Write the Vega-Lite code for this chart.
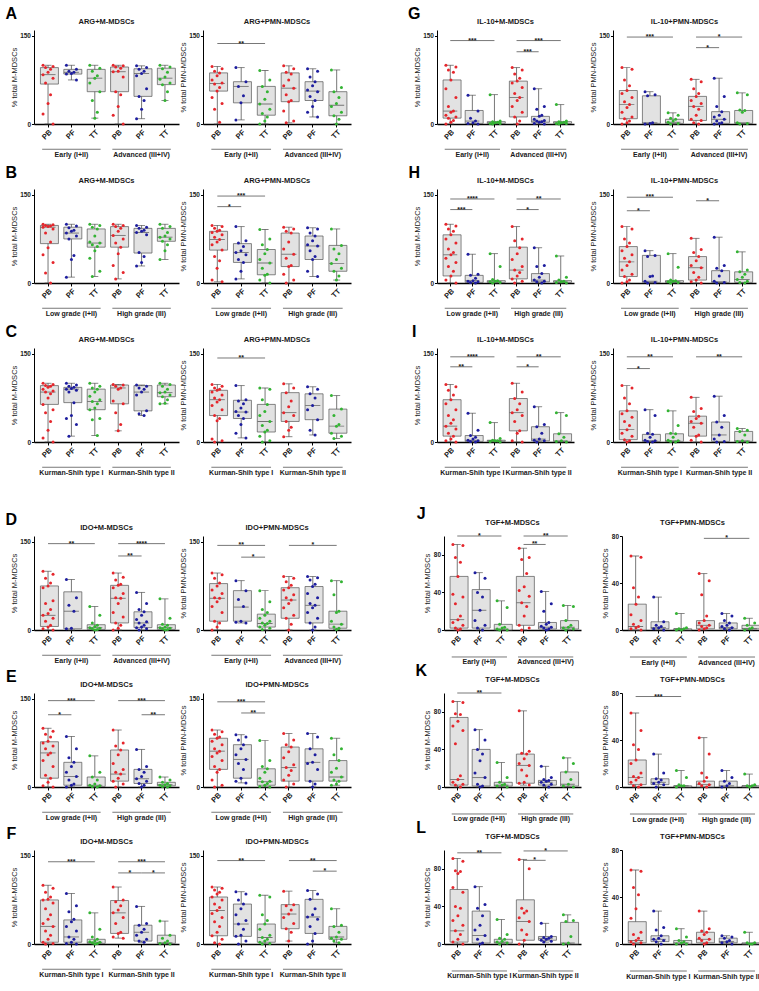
{"$schema":"https://vega.github.io/schema/vega-lite/v6.json",
"config":{"font":"Liberation Sans","view":{"stroke":null},"header":{"labels":false,"title":null},
"axis":{"grid":false,"domainColor":"#000","tickColor":"#000","labelColor":"#1a1a1a","titleColor":"#1a1a1a"},
"axisX":{"labelAngle":-45,"labelAlign":"right","labelBaseline":"top","labelFontSize":7.5,"labelFontWeight":"bold","domainWidth":1.4,"tickSize":3,"labelPadding":1},
"axisY":{"labelFontSize":6.5,"labelFontWeight":"bold","titleFontSize":7.5,"titleFontWeight":"normal","tickSize":2.5,"labelPadding":1,"titlePadding":1.5,"domainWidth":1},
"rule":{"color":"#555","strokeWidth":0.8},"tick":{"color":"#444","thickness":0.9},"circle":{"size":9,"opacity":1},
"text":{"fontSize":7,"fontWeight":"bold","color":"#1a1a1a"}},
"datasets":{"d":[
{"p":"A1","a":1,"b":3,"m":2,"g":"Early (I+II)","ti":"ARG+M-MDSCs","L":"A"},{"p":"A1","a":4,"b":6,"m":5,"g":"Advanced (III+IV)"},
{"p":"A2","a":1,"b":3,"m":2,"g":"Early (I+II)","ti":"ARG+PMN-MDSCs","L":"A"},{"p":"A2","a":4,"b":6,"m":5,"g":"Advanced (III+IV)"},
{"p":"D1","a":1,"b":3,"m":2,"g":"Early (I+II)","ti":"IDO+M-MDSCs","L":"D"},{"p":"D1","a":4,"b":6,"m":5,"g":"Advanced (III+IV)"},
{"p":"D2","a":1,"b":3,"m":2,"g":"Early (I+II)","ti":"IDO+PMN-MDSCs","L":"D"},{"p":"D2","a":4,"b":6,"m":5,"g":"Advanced (III+IV)"},
{"p":"G1","a":1,"b":3,"m":2,"g":"Early (I+II)","ti":"IL-10+M-MDSCs","L":"G"},{"p":"G1","a":4,"b":6,"m":5,"g":"Advanced (III+IV)"},
{"p":"G2","a":1,"b":3,"m":2,"g":"Early (I+II)","ti":"IL-10+PMN-MDSCs","L":"G"},{"p":"G2","a":4,"b":6,"m":5,"g":"Advanced (III+IV)"},
{"p":"J1","a":1,"b":3,"m":2,"g":"Early (I+II)","ti":"TGF+M-MDSCs","L":"J"},{"p":"J1","a":4,"b":6,"m":5,"g":"Advanced (III+IV)"},
{"p":"J2","a":1,"b":3,"m":2,"g":"Early (I+II)","ti":"TGF+PMN-MDSCs","L":"J"},{"p":"J2","a":4,"b":6,"m":5,"g":"Advanced (III+IV)"},
{"p":"B1","a":1,"b":3,"m":2,"g":"Low grade (I+II)","ti":"ARG+M-MDSCs","L":"B"},{"p":"B1","a":4,"b":6,"m":5,"g":"High grade (III)"},
{"p":"B2","a":1,"b":3,"m":2,"g":"Low grade (I+II)","ti":"ARG+PMN-MDSCs","L":"B"},{"p":"B2","a":4,"b":6,"m":5,"g":"High grade (III)"},
{"p":"E1","a":1,"b":3,"m":2,"g":"Low grade (I+II)","ti":"IDO+M-MDSCs","L":"E"},{"p":"E1","a":4,"b":6,"m":5,"g":"High grade (III)"},
{"p":"E2","a":1,"b":3,"m":2,"g":"Low grade (I+II)","ti":"IDO+PMN-MDSCs","L":"E"},{"p":"E2","a":4,"b":6,"m":5,"g":"High grade (III)"},
{"p":"H1","a":1,"b":3,"m":2,"g":"Low grade (I+II)","ti":"IL-10+M-MDSCs","L":"H"},{"p":"H1","a":4,"b":6,"m":5,"g":"High grade (III)"},
{"p":"H2","a":1,"b":3,"m":2,"g":"Low grade (I+II)","ti":"IL-10+PMN-MDSCs","L":"H"},{"p":"H2","a":4,"b":6,"m":5,"g":"High grade (III)"},
{"p":"K1","a":1,"b":3,"m":2,"g":"Low grade (I+II)","ti":"TGF+M-MDSCs","L":"K"},{"p":"K1","a":4,"b":6,"m":5,"g":"High grade (III)"},
{"p":"K2","a":1,"b":3,"m":2,"g":"Low grade (I+II)","ti":"TGF+PMN-MDSCs","L":"K"},{"p":"K2","a":4,"b":6,"m":5,"g":"High grade (III)"},
{"p":"C1","a":1,"b":3,"m":2,"g":"Kurman-Shih type I","ti":"ARG+M-MDSCs","L":"C"},{"p":"C1","a":4,"b":6,"m":5,"g":"Kurman-Shih type II"},
{"p":"C2","a":1,"b":3,"m":2,"g":"Kurman-Shih type I","ti":"ARG+PMN-MDSCs","L":"C"},{"p":"C2","a":4,"b":6,"m":5,"g":"Kurman-Shih type II"},
{"p":"F1","a":1,"b":3,"m":2,"g":"Kurman-Shih type I","ti":"IDO+M-MDSCs","L":"F"},{"p":"F1","a":4,"b":6,"m":5,"g":"Kurman-Shih type II"},
{"p":"F2","a":1,"b":3,"m":2,"g":"Kurman-Shih type I","ti":"IDO+PMN-MDSCs","L":"F"},{"p":"F2","a":4,"b":6,"m":5,"g":"Kurman-Shih type II"},
{"p":"I1","a":1,"b":3,"m":2,"g":"Kurman-Shih type I","ti":"IL-10+M-MDSCs","L":"I"},{"p":"I1","a":4,"b":6,"m":5,"g":"Kurman-Shih type II"},
{"p":"I2","a":1,"b":3,"m":2,"g":"Kurman-Shih type I","ti":"IL-10+PMN-MDSCs","L":"I"},{"p":"I2","a":4,"b":6,"m":5,"g":"Kurman-Shih type II"},
{"p":"L1","a":1,"b":3,"m":2,"g":"Kurman-Shih type I","ti":"TGF+M-MDSCs","L":"L"},{"p":"L1","a":4,"b":6,"m":5,"g":"Kurman-Shih type II"},
{"p":"L2","a":1,"b":3,"m":2,"g":"Kurman-Shih type I","ti":"TGF+PMN-MDSCs","L":"L"},{"p":"L2","a":4,"b":6,"m":5,"g":"Kurman-Shih type II"},
{"p":"A2","a":1,"b":3,"m":2,"y":137,"s":"**"},
{"p":"B2","a":1,"b":3,"m":2,"y":148,"s":"***"},{"p":"B2","a":1,"b":2,"y":130,"s":"*"},
{"p":"C2","a":1,"b":3,"m":2,"y":143,"s":"**"},
{"p":"D1","a":1,"b":3,"m":2,"y":147,"s":"**"},{"p":"D1","a":4,"b":6,"m":5,"y":147,"s":"****"},{"p":"D1","a":4,"b":5,"y":126,"s":"**"},
{"p":"D2","a":1,"b":3,"m":2,"y":144,"s":"**"},{"p":"D2","a":2,"b":3,"y":124,"s":"*"},{"p":"D2","a":4,"b":6,"m":5,"y":144,"s":"*"},
{"p":"E1","a":1,"b":3,"m":2,"y":147,"s":"***"},{"p":"E1","a":1,"b":2,"y":123,"s":"*"},{"p":"E1","a":4,"b":6,"m":5,"y":147,"s":"***"},{"p":"E1","a":5,"b":6,"y":123,"s":"**"},
{"p":"E2","a":1,"b":3,"m":2,"y":145,"s":"***"},{"p":"E2","a":2,"b":3,"y":126,"s":"**"},
{"p":"F1","a":1,"b":3,"m":2,"y":140,"s":"***"},{"p":"F1","a":4,"b":6,"m":5,"y":140,"s":"***"},{"p":"F1","a":4,"b":5,"y":121,"s":"*"},{"p":"F1","a":5,"b":6,"y":121,"s":"*"},
{"p":"F2","a":1,"b":3,"m":2,"y":142,"s":"**"},{"p":"F2","a":4,"b":6,"m":5,"y":142,"s":"**"},{"p":"F2","a":5,"b":6,"y":124,"s":"*"},
{"p":"G1","a":1,"b":3,"m":2,"y":142,"s":"***"},{"p":"G1","a":4,"b":6,"m":5,"y":142,"s":"***"},{"p":"G1","a":4,"b":5,"y":123,"s":"***"},
{"p":"G2","a":1,"b":3,"m":2,"y":148,"s":"***"},{"p":"G2","a":4,"b":6,"m":5,"y":148,"s":"*"},{"p":"G2","a":4,"b":5,"y":130,"s":"*"},
{"p":"H1","a":1,"b":3,"m":2,"y":143,"s":"****"},{"p":"H1","a":1,"b":2,"y":125,"s":"***"},{"p":"H1","a":4,"b":6,"m":5,"y":143,"s":"**"},{"p":"H1","a":4,"b":5,"y":125,"s":"*"},
{"p":"H2","a":1,"b":3,"m":2,"y":146,"s":"***"},{"p":"H2","a":1,"b":2,"y":123,"s":"*"},{"p":"H2","a":4,"b":5,"y":140,"s":"*"},
{"p":"I1","a":1,"b":3,"m":2,"y":145,"s":"****"},{"p":"I1","a":1,"b":2,"y":128,"s":"**"},{"p":"I1","a":4,"b":6,"m":5,"y":145,"s":"**"},{"p":"I1","a":4,"b":5,"y":128,"s":"*"},
{"p":"I2","a":1,"b":3,"m":2,"y":145,"s":"**"},{"p":"I2","a":1,"b":2,"y":125,"s":"*"},{"p":"I2","a":4,"b":6,"m":5,"y":145,"s":"**"},
{"p":"J1","a":1,"b":3,"m":2,"y":100,"s":"*"},{"p":"J1","a":4,"b":6,"m":5,"y":100,"s":"**"},{"p":"J1","a":4,"b":5,"y":91,"s":"**"},
{"p":"J2","a":4,"b":6,"m":5,"y":78,"s":"*"},
{"p":"K1","a":1,"b":3,"m":2,"y":100,"s":"**"},
{"p":"K2","a":1,"b":3,"m":2,"y":77,"s":"***"},
{"p":"L1","a":1,"b":3,"m":2,"y":97,"s":"**"},{"p":"L1","a":4,"b":6,"m":5,"y":99,"s":"*"},{"p":"L1","a":4,"b":5,"y":89,"s":"*"},
{"p":"A1","k":1,"lo":0,"q1":68,"md":84,"q3":96,"hi":100},{"p":"A1","k":2,"lo":75,"q1":85,"md":88,"q3":93,"hi":100},{"p":"A1","k":3,"lo":10,"q1":55,"md":78,"q3":93,"hi":100},{"p":"A1","k":4,"lo":0,"q1":55,"md":89,"q3":97,"hi":100},{"p":"A1","k":5,"lo":9,"q1":47,"md":86,"q3":94,"hi":99},{"p":"A1","k":6,"lo":40,"q1":67,"md":78,"q3":95,"hi":100},
{"p":"A2","k":1,"lo":0,"q1":56,"md":69,"q3":87,"hi":98},{"p":"A2","k":2,"lo":7,"q1":36,"md":64,"q3":72,"hi":96},{"p":"A2","k":3,"lo":0,"q1":15,"md":34,"q3":64,"hi":91},{"p":"A2","k":4,"lo":2,"q1":38,"md":61,"q3":87,"hi":99},{"p":"A2","k":5,"lo":12,"q1":40,"md":56,"q3":72,"hi":94},{"p":"A2","k":6,"lo":0,"q1":14,"md":32,"q3":55,"hi":92},
{"p":"B1","k":1,"lo":0,"q1":67,"md":95,"q3":98,"hi":100},{"p":"B1","k":2,"lo":10,"q1":75,"md":85,"q3":95,"hi":100},{"p":"B1","k":3,"lo":11,"q1":61,"md":68,"q3":92,"hi":100},{"p":"B1","k":4,"lo":7,"q1":61,"md":81,"q3":96,"hi":100},{"p":"B1","k":5,"lo":29,"q1":51,"md":86,"q3":93,"hi":98},{"p":"B1","k":6,"lo":40,"q1":71,"md":78,"q3":93,"hi":100},
{"p":"B2","k":1,"lo":2,"q1":56,"md":74,"q3":88,"hi":98},{"p":"B2","k":2,"lo":7,"q1":35,"md":52,"q3":67,"hi":96},{"p":"B2","k":3,"lo":0,"q1":14,"md":34,"q3":57,"hi":91},{"p":"B2","k":4,"lo":0,"q1":28,"md":49,"q3":85,"hi":95},{"p":"B2","k":5,"lo":11,"q1":40,"md":63,"q3":80,"hi":94},{"p":"B2","k":6,"lo":5,"q1":20,"md":33,"q3":64,"hi":92},
{"p":"C1","k":1,"lo":0,"q1":64,"md":85,"q3":96,"hi":100},{"p":"C1","k":2,"lo":10,"q1":67,"md":90,"q3":93,"hi":100},{"p":"C1","k":3,"lo":11,"q1":55,"md":69,"q3":90,"hi":100},{"p":"C1","k":4,"lo":19,"q1":65,"md":92,"q3":97,"hi":98},{"p":"C1","k":5,"lo":45,"q1":53,"md":85,"q3":96,"hi":97},{"p":"C1","k":6,"lo":65,"q1":77,"md":84,"q3":97,"hi":100},
{"p":"C2","k":1,"lo":0,"q1":45,"md":72,"q3":88,"hi":98},{"p":"C2","k":2,"lo":7,"q1":40,"md":51,"q3":71,"hi":96},{"p":"C2","k":3,"lo":0,"q1":17,"md":35,"q3":64,"hi":92},{"p":"C2","k":4,"lo":9,"q1":35,"md":50,"q3":84,"hi":99},{"p":"C2","k":5,"lo":12,"q1":38,"md":62,"q3":82,"hi":94},{"p":"C2","k":6,"lo":6,"q1":15,"md":27,"q3":56,"hi":79},
{"p":"D1","k":1,"lo":0,"q1":6,"md":25,"q3":75,"hi":100},{"p":"D1","k":2,"lo":0,"q1":2,"md":32,"q3":65,"hi":86},{"p":"D1","k":3,"lo":0,"q1":1,"md":4,"q3":9,"hi":40},{"p":"D1","k":4,"lo":0,"q1":12,"md":54,"q3":76,"hi":97},{"p":"D1","k":5,"lo":0,"q1":4,"md":12,"q3":31,"hi":64},{"p":"D1","k":6,"lo":0,"q1":1,"md":4,"q3":9,"hi":53},
{"p":"D2","k":1,"lo":0,"q1":15,"md":54,"q3":79,"hi":97},{"p":"D2","k":2,"lo":12,"q1":15,"md":39,"q3":67,"hi":84},{"p":"D2","k":3,"lo":0,"q1":5,"md":11,"q3":27,"hi":67},{"p":"D2","k":4,"lo":0,"q1":20,"md":51,"q3":72,"hi":91},{"p":"D2","k":5,"lo":0,"q1":12,"md":42,"q3":74,"hi":91},{"p":"D2","k":6,"lo":1,"q1":3,"md":10,"q3":32,"hi":84},
{"p":"E1","k":1,"lo":0,"q1":15,"md":58,"q3":77,"hi":100},{"p":"E1","k":2,"lo":0,"q1":3,"md":18,"q3":42,"hi":86},{"p":"E1","k":3,"lo":0,"q1":1,"md":3,"q3":17,"hi":53},{"p":"E1","k":4,"lo":0,"q1":10,"md":22,"q3":63,"hi":97},{"p":"E1","k":5,"lo":0,"q1":6,"md":14,"q3":30,"hi":64},{"p":"E1","k":6,"lo":0,"q1":2,"md":4,"q3":8,"hi":17},
{"p":"E2","k":1,"lo":0,"q1":30,"md":61,"q3":83,"hi":97},{"p":"E2","k":2,"lo":7,"q1":15,"md":47,"q3":72,"hi":89},{"p":"E2","k":3,"lo":0,"q1":3,"md":9,"q3":31,"hi":79},{"p":"E2","k":4,"lo":0,"q1":10,"md":33,"q3":68,"hi":91},{"p":"E2","k":5,"lo":0,"q1":10,"md":42,"q3":65,"hi":91},{"p":"E2","k":6,"lo":3,"q1":10,"md":17,"q3":45,"hi":83},
{"p":"F1","k":1,"lo":0,"q1":3,"md":30,"q3":75,"hi":100},{"p":"F1","k":2,"lo":0,"q1":3,"md":12,"q3":41,"hi":86},{"p":"F1","k":3,"lo":0,"q1":1,"md":3,"q3":8,"hi":53},{"p":"F1","k":4,"lo":10,"q1":18,"md":53,"q3":74,"hi":97},{"p":"F1","k":5,"lo":3,"q1":5,"md":20,"q3":32,"hi":64},{"p":"F1","k":6,"lo":0,"q1":1,"md":2,"q3":15,"hi":39},
{"p":"F2","k":1,"lo":0,"q1":14,"md":57,"q3":80,"hi":97},{"p":"F2","k":2,"lo":0,"q1":13,"md":34,"q3":68,"hi":89},{"p":"F2","k":3,"lo":0,"q1":3,"md":11,"q3":34,"hi":83},{"p":"F2","k":4,"lo":5,"q1":26,"md":51,"q3":67,"hi":90},{"p":"F2","k":5,"lo":0,"q1":18,"md":46,"q3":76,"hi":91},{"p":"F2","k":6,"lo":2,"q1":8,"md":12,"q3":30,"hi":60},
{"p":"G1","k":1,"lo":0,"q1":10,"md":22,"q3":75,"hi":100},{"p":"G1","k":2,"lo":0,"q1":1,"md":5,"q3":23,"hi":49},{"p":"G1","k":3,"lo":0,"q1":1,"md":2,"q3":4,"hi":50},{"p":"G1","k":4,"lo":0,"q1":12,"md":45,"q3":73,"hi":96},{"p":"G1","k":5,"lo":0,"q1":3,"md":5,"q3":13,"hi":60},{"p":"G1","k":6,"lo":0,"q1":1,"md":2,"q3":4,"hi":33},
{"p":"G2","k":1,"lo":0,"q1":9,"md":33,"q3":57,"hi":96},{"p":"G2","k":2,"lo":0,"q1":1,"md":2,"q3":48,"hi":55},{"p":"G2","k":3,"lo":0,"q1":1,"md":3,"q3":8,"hi":19},{"p":"G2","k":4,"lo":0,"q1":6,"md":30,"q3":47,"hi":76},{"p":"G2","k":5,"lo":0,"q1":1,"md":8,"q3":21,"hi":78},{"p":"G2","k":6,"lo":0,"q1":1,"md":2,"q3":23,"hi":53},
{"p":"H1","k":1,"lo":0,"q1":12,"md":48,"q3":82,"hi":100},{"p":"H1","k":2,"lo":0,"q1":1,"md":4,"q3":13,"hi":49},{"p":"H1","k":3,"lo":0,"q1":1,"md":2,"q3":4,"hi":50},{"p":"H1","k":4,"lo":0,"q1":7,"md":22,"q3":61,"hi":96},{"p":"H1","k":5,"lo":0,"q1":2,"md":5,"q3":16,"hi":60},{"p":"H1","k":6,"lo":0,"q1":1,"md":2,"q3":4,"hi":46},
{"p":"H2","k":1,"lo":0,"q1":11,"md":36,"q3":62,"hi":96},{"p":"H2","k":2,"lo":0,"q1":1,"md":3,"q3":47,"hi":55},{"p":"H2","k":3,"lo":0,"q1":1,"md":2,"q3":4,"hi":50},{"p":"H2","k":4,"lo":0,"q1":5,"md":26,"q3":45,"hi":76},{"p":"H2","k":5,"lo":0,"q1":1,"md":2,"q3":21,"hi":78},{"p":"H2","k":6,"lo":0,"q1":1,"md":6,"q3":19,"hi":53},
{"p":"I1","k":1,"lo":0,"q1":10,"md":27,"q3":72,"hi":98},{"p":"I1","k":2,"lo":0,"q1":1,"md":3,"q3":11,"hi":49},{"p":"I1","k":3,"lo":0,"q1":1,"md":2,"q3":3,"hi":33},{"p":"I1","k":4,"lo":0,"q1":19,"md":50,"q3":74,"hi":100},{"p":"I1","k":5,"lo":0,"q1":2,"md":5,"q3":26,"hi":60},{"p":"I1","k":6,"lo":0,"q1":1,"md":2,"q3":14,"hi":50},
{"p":"I2","k":1,"lo":0,"q1":4,"md":21,"q3":53,"hi":96},{"p":"I2","k":2,"lo":0,"q1":1,"md":2,"q3":13,"hi":55},{"p":"I2","k":3,"lo":0,"q1":1,"md":2,"q3":14,"hi":53},{"p":"I2","k":4,"lo":0,"q1":10,"md":32,"q3":44,"hi":76},{"p":"I2","k":5,"lo":0,"q1":1,"md":12,"q3":34,"hi":78},{"p":"I2","k":6,"lo":0,"q1":1,"md":2,"q3":18,"hi":23},
{"p":"J1","k":1,"lo":0,"q1":2,"md":11,"q3":57,"hi":91},{"p":"J1","k":2,"lo":0,"q1":2,"md":21,"q3":43,"hi":61},{"p":"J1","k":3,"lo":0,"q1":0,"md":1,"q3":6,"hi":31},{"p":"J1","k":4,"lo":0,"q1":5,"md":29,"q3":57,"hi":87},{"p":"J1","k":5,"lo":0,"q1":1,"md":3,"q3":8,"hi":41},{"p":"J1","k":6,"lo":0,"q1":1,"md":3,"q3":10,"hi":26},
{"p":"J2","k":1,"lo":0,"q1":0,"md":3,"q3":22,"hi":63},{"p":"J2","k":2,"lo":0,"q1":1,"md":2,"q3":7,"hi":28},{"p":"J2","k":3,"lo":0,"q1":0,"md":1,"q3":1,"hi":14},{"p":"J2","k":4,"lo":0,"q1":1,"md":4,"q3":8,"hi":48},{"p":"J2","k":5,"lo":0,"q1":1,"md":2,"q3":6,"hi":14},{"p":"J2","k":6,"lo":0,"q1":1,"md":1,"q3":4,"hi":10},
{"p":"K1","k":1,"lo":0,"q1":2,"md":8,"q3":74,"hi":91},{"p":"K1","k":2,"lo":0,"q1":1,"md":10,"q3":40,"hi":61},{"p":"K1","k":3,"lo":0,"q1":1,"md":2,"q3":5,"hi":26},{"p":"K1","k":4,"lo":2,"q1":4,"md":23,"q3":35,"hi":81},{"p":"K1","k":5,"lo":0,"q1":2,"md":5,"q3":7,"hi":22},{"p":"K1","k":6,"lo":0,"q1":1,"md":3,"q3":16,"hi":31},
{"p":"K2","k":1,"lo":0,"q1":2,"md":8,"q3":23,"hi":63},{"p":"K2","k":2,"lo":0,"q1":2,"md":4,"q3":7,"hi":28},{"p":"K2","k":3,"lo":0,"q1":0,"md":1,"q3":1,"hi":14},{"p":"K2","k":4,"lo":0,"q1":0,"md":2,"q3":5,"hi":42},{"p":"K2","k":5,"lo":0,"q1":0,"md":1,"q3":5,"hi":14},{"p":"K2","k":6,"lo":0,"q1":0,"md":1,"q3":1,"hi":11},
{"p":"L1","k":1,"lo":0,"q1":2,"md":14,"q3":58,"hi":91},{"p":"L1","k":2,"lo":0,"q1":1,"md":9,"q3":35,"hi":61},{"p":"L1","k":3,"lo":0,"q1":1,"md":2,"q3":5,"hi":26},{"p":"L1","k":4,"lo":0,"q1":4,"md":24,"q3":47,"hi":90},{"p":"L1","k":5,"lo":2,"q1":4,"md":6,"q3":8,"hi":22},{"p":"L1","k":6,"lo":0,"q1":0,"md":1,"q3":23,"hi":31},
{"p":"L2","k":1,"lo":0,"q1":1,"md":3,"q3":19,"hi":63},{"p":"L2","k":2,"lo":0,"q1":2,"md":4,"q3":7,"hi":28},{"p":"L2","k":3,"lo":0,"q1":0,"md":1,"q3":3,"hi":13},{"p":"L2","k":4,"lo":0,"q1":1,"md":4,"q3":10,"hi":28},{"p":"L2","k":5,"lo":0,"q1":1,"md":2,"q3":5,"hi":7},{"p":"L2","k":6,"lo":0,"q1":0,"md":0,"q3":1,"hi":10},
{"p":"A1","k":1,"v":100},{"p":"A1","k":1,"v":98},{"p":"A1","k":1,"v":96},{"p":"A1","k":1,"v":93},{"p":"A1","k":1,"v":88},{"p":"A1","k":1,"v":84},{"p":"A1","k":1,"v":78},{"p":"A1","k":1,"v":70},{"p":"A1","k":1,"v":50},{"p":"A1","k":1,"v":35},{"p":"A1","k":1,"v":17},{"p":"A1","k":1,"v":0},
{"p":"A1","k":2,"v":100},{"p":"A1","k":2,"v":93},{"p":"A1","k":2,"v":90},{"p":"A1","k":2,"v":88},{"p":"A1","k":2,"v":86},{"p":"A1","k":2,"v":85},{"p":"A1","k":2,"v":75},
{"p":"A1","k":3,"v":100},{"p":"A1","k":3,"v":95},{"p":"A1","k":3,"v":90},{"p":"A1","k":3,"v":82},{"p":"A1","k":3,"v":78},{"p":"A1","k":3,"v":70},{"p":"A1","k":3,"v":55},{"p":"A1","k":3,"v":40},{"p":"A1","k":3,"v":20},{"p":"A1","k":3,"v":10},
{"p":"A1","k":4,"v":100},{"p":"A1","k":4,"v":99},{"p":"A1","k":4,"v":97},{"p":"A1","k":4,"v":95},{"p":"A1","k":4,"v":90},{"p":"A1","k":4,"v":89},{"p":"A1","k":4,"v":80},{"p":"A1","k":4,"v":55},{"p":"A1","k":4,"v":50},{"p":"A1","k":4,"v":30},{"p":"A1","k":4,"v":15},{"p":"A1","k":4,"v":0},
{"p":"A1","k":5,"v":99},{"p":"A1","k":5,"v":96},{"p":"A1","k":5,"v":93},{"p":"A1","k":5,"v":90},{"p":"A1","k":5,"v":86},{"p":"A1","k":5,"v":82},{"p":"A1","k":5,"v":60},{"p":"A1","k":5,"v":47},{"p":"A1","k":5,"v":40},{"p":"A1","k":5,"v":25},{"p":"A1","k":5,"v":9},
{"p":"A1","k":6,"v":100},{"p":"A1","k":6,"v":97},{"p":"A1","k":6,"v":94},{"p":"A1","k":6,"v":88},{"p":"A1","k":6,"v":80},{"p":"A1","k":6,"v":76},{"p":"A1","k":6,"v":70},{"p":"A1","k":6,"v":67},{"p":"A1","k":6,"v":55},{"p":"A1","k":6,"v":40},
{"p":"A2","k":1,"v":98},{"p":"A2","k":1,"v":94},{"p":"A2","k":1,"v":90},{"p":"A2","k":1,"v":87},{"p":"A2","k":1,"v":82},{"p":"A2","k":1,"v":75},{"p":"A2","k":1,"v":70},{"p":"A2","k":1,"v":68},{"p":"A2","k":1,"v":62},{"p":"A2","k":1,"v":56},{"p":"A2","k":1,"v":45},{"p":"A2","k":1,"v":35},{"p":"A2","k":1,"v":25},{"p":"A2","k":1,"v":3},
{"p":"A2","k":2,"v":96},{"p":"A2","k":2,"v":72},{"p":"A2","k":2,"v":64},{"p":"A2","k":2,"v":48},{"p":"A2","k":2,"v":36},{"p":"A2","k":2,"v":7},
{"p":"A2","k":3,"v":91},{"p":"A2","k":3,"v":75},{"p":"A2","k":3,"v":64},{"p":"A2","k":3,"v":55},{"p":"A2","k":3,"v":42},{"p":"A2","k":3,"v":34},{"p":"A2","k":3,"v":25},{"p":"A2","k":3,"v":18},{"p":"A2","k":3,"v":12},{"p":"A2","k":3,"v":5},{"p":"A2","k":3,"v":0},
{"p":"A2","k":4,"v":99},{"p":"A2","k":4,"v":94},{"p":"A2","k":4,"v":88},{"p":"A2","k":4,"v":85},{"p":"A2","k":4,"v":75},{"p":"A2","k":4,"v":65},{"p":"A2","k":4,"v":61},{"p":"A2","k":4,"v":50},{"p":"A2","k":4,"v":40},{"p":"A2","k":4,"v":38},{"p":"A2","k":4,"v":22},{"p":"A2","k":4,"v":5},{"p":"A2","k":4,"v":2},
{"p":"A2","k":5,"v":94},{"p":"A2","k":5,"v":90},{"p":"A2","k":5,"v":80},{"p":"A2","k":5,"v":72},{"p":"A2","k":5,"v":65},{"p":"A2","k":5,"v":58},{"p":"A2","k":5,"v":55},{"p":"A2","k":5,"v":47},{"p":"A2","k":5,"v":40},{"p":"A2","k":5,"v":30},{"p":"A2","k":5,"v":20},{"p":"A2","k":5,"v":12},
{"p":"A2","k":6,"v":92},{"p":"A2","k":6,"v":62},{"p":"A2","k":6,"v":55},{"p":"A2","k":6,"v":45},{"p":"A2","k":6,"v":35},{"p":"A2","k":6,"v":30},{"p":"A2","k":6,"v":20},{"p":"A2","k":6,"v":14},{"p":"A2","k":6,"v":8},{"p":"A2","k":6,"v":0},
{"p":"B1","k":1,"v":100},{"p":"B1","k":1,"v":99},{"p":"B1","k":1,"v":98},{"p":"B1","k":1,"v":97},{"p":"B1","k":1,"v":96},{"p":"B1","k":1,"v":95},{"p":"B1","k":1,"v":92},{"p":"B1","k":1,"v":85},{"p":"B1","k":1,"v":70},{"p":"B1","k":1,"v":60},{"p":"B1","k":1,"v":48},{"p":"B1","k":1,"v":35},{"p":"B1","k":1,"v":17},{"p":"B1","k":1,"v":0},
{"p":"B1","k":2,"v":100},{"p":"B1","k":2,"v":97},{"p":"B1","k":2,"v":94},{"p":"B1","k":2,"v":90},{"p":"B1","k":2,"v":88},{"p":"B1","k":2,"v":85},{"p":"B1","k":2,"v":80},{"p":"B1","k":2,"v":75},{"p":"B1","k":2,"v":47},{"p":"B1","k":2,"v":40},{"p":"B1","k":2,"v":10},
{"p":"B1","k":3,"v":100},{"p":"B1","k":3,"v":98},{"p":"B1","k":3,"v":95},{"p":"B1","k":3,"v":92},{"p":"B1","k":3,"v":80},{"p":"B1","k":3,"v":70},{"p":"B1","k":3,"v":68},{"p":"B1","k":3,"v":65},{"p":"B1","k":3,"v":62},{"p":"B1","k":3,"v":55},{"p":"B1","k":3,"v":42},{"p":"B1","k":3,"v":20},{"p":"B1","k":3,"v":11},
{"p":"B1","k":4,"v":100},{"p":"B1","k":4,"v":98},{"p":"B1","k":4,"v":96},{"p":"B1","k":4,"v":93},{"p":"B1","k":4,"v":88},{"p":"B1","k":4,"v":81},{"p":"B1","k":4,"v":75},{"p":"B1","k":4,"v":68},{"p":"B1","k":4,"v":61},{"p":"B1","k":4,"v":50},{"p":"B1","k":4,"v":30},{"p":"B1","k":4,"v":18},{"p":"B1","k":4,"v":7},
{"p":"B1","k":5,"v":98},{"p":"B1","k":5,"v":95},{"p":"B1","k":5,"v":93},{"p":"B1","k":5,"v":90},{"p":"B1","k":5,"v":88},{"p":"B1","k":5,"v":86},{"p":"B1","k":5,"v":82},{"p":"B1","k":5,"v":52},{"p":"B1","k":5,"v":45},{"p":"B1","k":5,"v":35},{"p":"B1","k":5,"v":29},
{"p":"B1","k":6,"v":100},{"p":"B1","k":6,"v":96},{"p":"B1","k":6,"v":93},{"p":"B1","k":6,"v":86},{"p":"B1","k":6,"v":80},{"p":"B1","k":6,"v":78},{"p":"B1","k":6,"v":75},{"p":"B1","k":6,"v":71},{"p":"B1","k":6,"v":65},{"p":"B1","k":6,"v":55},{"p":"B1","k":6,"v":40},
{"p":"B2","k":1,"v":98},{"p":"B2","k":1,"v":96},{"p":"B2","k":1,"v":93},{"p":"B2","k":1,"v":90},{"p":"B2","k":1,"v":88},{"p":"B2","k":1,"v":86},{"p":"B2","k":1,"v":82},{"p":"B2","k":1,"v":78},{"p":"B2","k":1,"v":74},{"p":"B2","k":1,"v":70},{"p":"B2","k":1,"v":65},{"p":"B2","k":1,"v":56},{"p":"B2","k":1,"v":45},{"p":"B2","k":1,"v":38},{"p":"B2","k":1,"v":25},{"p":"B2","k":1,"v":5},{"p":"B2","k":1,"v":2},
{"p":"B2","k":2,"v":96},{"p":"B2","k":2,"v":72},{"p":"B2","k":2,"v":68},{"p":"B2","k":2,"v":62},{"p":"B2","k":2,"v":55},{"p":"B2","k":2,"v":52},{"p":"B2","k":2,"v":48},{"p":"B2","k":2,"v":40},{"p":"B2","k":2,"v":35},{"p":"B2","k":2,"v":20},{"p":"B2","k":2,"v":7},
{"p":"B2","k":3,"v":91},{"p":"B2","k":3,"v":75},{"p":"B2","k":3,"v":65},{"p":"B2","k":3,"v":57},{"p":"B2","k":3,"v":50},{"p":"B2","k":3,"v":40},{"p":"B2","k":3,"v":34},{"p":"B2","k":3,"v":25},{"p":"B2","k":3,"v":15},{"p":"B2","k":3,"v":13},{"p":"B2","k":3,"v":5},{"p":"B2","k":3,"v":0},
{"p":"B2","k":4,"v":95},{"p":"B2","k":4,"v":92},{"p":"B2","k":4,"v":88},{"p":"B2","k":4,"v":85},{"p":"B2","k":4,"v":70},{"p":"B2","k":4,"v":58},{"p":"B2","k":4,"v":49},{"p":"B2","k":4,"v":42},{"p":"B2","k":4,"v":30},{"p":"B2","k":4,"v":28},{"p":"B2","k":4,"v":15},{"p":"B2","k":4,"v":5},{"p":"B2","k":4,"v":0},
{"p":"B2","k":5,"v":94},{"p":"B2","k":5,"v":92},{"p":"B2","k":5,"v":85},{"p":"B2","k":5,"v":80},{"p":"B2","k":5,"v":72},{"p":"B2","k":5,"v":65},{"p":"B2","k":5,"v":63},{"p":"B2","k":5,"v":55},{"p":"B2","k":5,"v":45},{"p":"B2","k":5,"v":40},{"p":"B2","k":5,"v":20},{"p":"B2","k":5,"v":11},
{"p":"B2","k":6,"v":92},{"p":"B2","k":6,"v":64},{"p":"B2","k":6,"v":58},{"p":"B2","k":6,"v":50},{"p":"B2","k":6,"v":40},{"p":"B2","k":6,"v":33},{"p":"B2","k":6,"v":25},{"p":"B2","k":6,"v":20},{"p":"B2","k":6,"v":12},{"p":"B2","k":6,"v":5},
{"p":"C1","k":1,"v":100},{"p":"C1","k":1,"v":98},{"p":"C1","k":1,"v":96},{"p":"C1","k":1,"v":95},{"p":"C1","k":1,"v":93},{"p":"C1","k":1,"v":90},{"p":"C1","k":1,"v":87},{"p":"C1","k":1,"v":85},{"p":"C1","k":1,"v":82},{"p":"C1","k":1,"v":75},{"p":"C1","k":1,"v":64},{"p":"C1","k":1,"v":55},{"p":"C1","k":1,"v":50},{"p":"C1","k":1,"v":35},{"p":"C1","k":1,"v":20},{"p":"C1","k":1,"v":7},{"p":"C1","k":1,"v":0},
{"p":"C1","k":2,"v":100},{"p":"C1","k":2,"v":97},{"p":"C1","k":2,"v":95},{"p":"C1","k":2,"v":93},{"p":"C1","k":2,"v":91},{"p":"C1","k":2,"v":90},{"p":"C1","k":2,"v":88},{"p":"C1","k":2,"v":85},{"p":"C1","k":2,"v":67},{"p":"C1","k":2,"v":45},{"p":"C1","k":2,"v":40},{"p":"C1","k":2,"v":30},{"p":"C1","k":2,"v":10},
{"p":"C1","k":3,"v":100},{"p":"C1","k":3,"v":95},{"p":"C1","k":3,"v":92},{"p":"C1","k":3,"v":90},{"p":"C1","k":3,"v":85},{"p":"C1","k":3,"v":78},{"p":"C1","k":3,"v":72},{"p":"C1","k":3,"v":69},{"p":"C1","k":3,"v":65},{"p":"C1","k":3,"v":58},{"p":"C1","k":3,"v":55},{"p":"C1","k":3,"v":40},{"p":"C1","k":3,"v":38},{"p":"C1","k":3,"v":11},
{"p":"C1","k":4,"v":98},{"p":"C1","k":4,"v":97},{"p":"C1","k":4,"v":95},{"p":"C1","k":4,"v":92},{"p":"C1","k":4,"v":90},{"p":"C1","k":4,"v":70},{"p":"C1","k":4,"v":65},{"p":"C1","k":4,"v":50},{"p":"C1","k":4,"v":30},{"p":"C1","k":4,"v":19},
{"p":"C1","k":5,"v":97},{"p":"C1","k":5,"v":95},{"p":"C1","k":5,"v":92},{"p":"C1","k":5,"v":90},{"p":"C1","k":5,"v":85},{"p":"C1","k":5,"v":80},{"p":"C1","k":5,"v":53},{"p":"C1","k":5,"v":48},{"p":"C1","k":5,"v":45},
{"p":"C1","k":6,"v":100},{"p":"C1","k":6,"v":98},{"p":"C1","k":6,"v":95},{"p":"C1","k":6,"v":90},{"p":"C1","k":6,"v":85},{"p":"C1","k":6,"v":84},{"p":"C1","k":6,"v":80},{"p":"C1","k":6,"v":77},{"p":"C1","k":6,"v":72},{"p":"C1","k":6,"v":66},{"p":"C1","k":6,"v":65},
{"p":"C2","k":1,"v":98},{"p":"C2","k":1,"v":95},{"p":"C2","k":1,"v":92},{"p":"C2","k":1,"v":90},{"p":"C2","k":1,"v":88},{"p":"C2","k":1,"v":85},{"p":"C2","k":1,"v":80},{"p":"C2","k":1,"v":75},{"p":"C2","k":1,"v":72},{"p":"C2","k":1,"v":68},{"p":"C2","k":1,"v":62},{"p":"C2","k":1,"v":55},{"p":"C2","k":1,"v":45},{"p":"C2","k":1,"v":40},{"p":"C2","k":1,"v":36},{"p":"C2","k":1,"v":5},{"p":"C2","k":1,"v":2},{"p":"C2","k":1,"v":0},
{"p":"C2","k":2,"v":96},{"p":"C2","k":2,"v":72},{"p":"C2","k":2,"v":70},{"p":"C2","k":2,"v":65},{"p":"C2","k":2,"v":58},{"p":"C2","k":2,"v":52},{"p":"C2","k":2,"v":51},{"p":"C2","k":2,"v":45},{"p":"C2","k":2,"v":40},{"p":"C2","k":2,"v":30},{"p":"C2","k":2,"v":15},{"p":"C2","k":2,"v":7},
{"p":"C2","k":3,"v":92},{"p":"C2","k":3,"v":90},{"p":"C2","k":3,"v":72},{"p":"C2","k":3,"v":64},{"p":"C2","k":3,"v":52},{"p":"C2","k":3,"v":45},{"p":"C2","k":3,"v":35},{"p":"C2","k":3,"v":28},{"p":"C2","k":3,"v":20},{"p":"C2","k":3,"v":17},{"p":"C2","k":3,"v":10},{"p":"C2","k":3,"v":2},{"p":"C2","k":3,"v":0},
{"p":"C2","k":4,"v":99},{"p":"C2","k":4,"v":92},{"p":"C2","k":4,"v":84},{"p":"C2","k":4,"v":70},{"p":"C2","k":4,"v":60},{"p":"C2","k":4,"v":50},{"p":"C2","k":4,"v":45},{"p":"C2","k":4,"v":35},{"p":"C2","k":4,"v":25},{"p":"C2","k":4,"v":20},{"p":"C2","k":4,"v":9},
{"p":"C2","k":5,"v":94},{"p":"C2","k":5,"v":90},{"p":"C2","k":5,"v":82},{"p":"C2","k":5,"v":75},{"p":"C2","k":5,"v":62},{"p":"C2","k":5,"v":55},{"p":"C2","k":5,"v":38},{"p":"C2","k":5,"v":20},{"p":"C2","k":5,"v":12},
{"p":"C2","k":6,"v":79},{"p":"C2","k":6,"v":56},{"p":"C2","k":6,"v":45},{"p":"C2","k":6,"v":30},{"p":"C2","k":6,"v":27},{"p":"C2","k":6,"v":15},{"p":"C2","k":6,"v":10},{"p":"C2","k":6,"v":6},
{"p":"D1","k":1,"v":100},{"p":"D1","k":1,"v":95},{"p":"D1","k":1,"v":88},{"p":"D1","k":1,"v":80},{"p":"D1","k":1,"v":75},{"p":"D1","k":1,"v":72},{"p":"D1","k":1,"v":50},{"p":"D1","k":1,"v":45},{"p":"D1","k":1,"v":35},{"p":"D1","k":1,"v":28},{"p":"D1","k":1,"v":25},{"p":"D1","k":1,"v":20},{"p":"D1","k":1,"v":15},{"p":"D1","k":1,"v":8},{"p":"D1","k":1,"v":5},{"p":"D1","k":1,"v":2},{"p":"D1","k":1,"v":0},
{"p":"D1","k":2,"v":86},{"p":"D1","k":2,"v":55},{"p":"D1","k":2,"v":42},{"p":"D1","k":2,"v":32},{"p":"D1","k":2,"v":3},{"p":"D1","k":2,"v":2},
{"p":"D1","k":3,"v":40},{"p":"D1","k":3,"v":25},{"p":"D1","k":3,"v":12},{"p":"D1","k":3,"v":8},{"p":"D1","k":3,"v":6},{"p":"D1","k":3,"v":4},{"p":"D1","k":3,"v":3},{"p":"D1","k":3,"v":2},{"p":"D1","k":3,"v":1},{"p":"D1","k":3,"v":0},
{"p":"D1","k":4,"v":97},{"p":"D1","k":4,"v":90},{"p":"D1","k":4,"v":85},{"p":"D1","k":4,"v":78},{"p":"D1","k":4,"v":76},{"p":"D1","k":4,"v":72},{"p":"D1","k":4,"v":62},{"p":"D1","k":4,"v":55},{"p":"D1","k":4,"v":54},{"p":"D1","k":4,"v":45},{"p":"D1","k":4,"v":30},{"p":"D1","k":4,"v":22},{"p":"D1","k":4,"v":12},{"p":"D1","k":4,"v":8},{"p":"D1","k":4,"v":3},{"p":"D1","k":4,"v":0},
{"p":"D1","k":5,"v":64},{"p":"D1","k":5,"v":45},{"p":"D1","k":5,"v":35},{"p":"D1","k":5,"v":31},{"p":"D1","k":5,"v":25},{"p":"D1","k":5,"v":18},{"p":"D1","k":5,"v":14},{"p":"D1","k":5,"v":12},{"p":"D1","k":5,"v":8},{"p":"D1","k":5,"v":5},{"p":"D1","k":5,"v":4},{"p":"D1","k":5,"v":2},{"p":"D1","k":5,"v":0},
{"p":"D1","k":6,"v":53},{"p":"D1","k":6,"v":20},{"p":"D1","k":6,"v":10},{"p":"D1","k":6,"v":8},{"p":"D1","k":6,"v":5},{"p":"D1","k":6,"v":4},{"p":"D1","k":6,"v":3},{"p":"D1","k":6,"v":2},{"p":"D1","k":6,"v":1},{"p":"D1","k":6,"v":0},
{"p":"D2","k":1,"v":97},{"p":"D2","k":1,"v":94},{"p":"D2","k":1,"v":88},{"p":"D2","k":1,"v":80},{"p":"D2","k":1,"v":75},{"p":"D2","k":1,"v":68},{"p":"D2","k":1,"v":62},{"p":"D2","k":1,"v":55},{"p":"D2","k":1,"v":54},{"p":"D2","k":1,"v":48},{"p":"D2","k":1,"v":40},{"p":"D2","k":1,"v":30},{"p":"D2","k":1,"v":15},{"p":"D2","k":1,"v":12},{"p":"D2","k":1,"v":5},{"p":"D2","k":1,"v":0},
{"p":"D2","k":2,"v":84},{"p":"D2","k":2,"v":67},{"p":"D2","k":2,"v":52},{"p":"D2","k":2,"v":40},{"p":"D2","k":2,"v":15},{"p":"D2","k":2,"v":13},{"p":"D2","k":2,"v":12},
{"p":"D2","k":3,"v":67},{"p":"D2","k":3,"v":48},{"p":"D2","k":3,"v":35},{"p":"D2","k":3,"v":30},{"p":"D2","k":3,"v":25},{"p":"D2","k":3,"v":20},{"p":"D2","k":3,"v":15},{"p":"D2","k":3,"v":12},{"p":"D2","k":3,"v":11},{"p":"D2","k":3,"v":8},{"p":"D2","k":3,"v":5},{"p":"D2","k":3,"v":3},{"p":"D2","k":3,"v":1},
{"p":"D2","k":4,"v":91},{"p":"D2","k":4,"v":88},{"p":"D2","k":4,"v":82},{"p":"D2","k":4,"v":76},{"p":"D2","k":4,"v":72},{"p":"D2","k":4,"v":68},{"p":"D2","k":4,"v":60},{"p":"D2","k":4,"v":55},{"p":"D2","k":4,"v":51},{"p":"D2","k":4,"v":45},{"p":"D2","k":4,"v":38},{"p":"D2","k":4,"v":25},{"p":"D2","k":4,"v":20},{"p":"D2","k":4,"v":10},{"p":"D2","k":4,"v":0},
{"p":"D2","k":5,"v":91},{"p":"D2","k":5,"v":89},{"p":"D2","k":5,"v":85},{"p":"D2","k":5,"v":78},{"p":"D2","k":5,"v":74},{"p":"D2","k":5,"v":62},{"p":"D2","k":5,"v":55},{"p":"D2","k":5,"v":45},{"p":"D2","k":5,"v":42},{"p":"D2","k":5,"v":38},{"p":"D2","k":5,"v":30},{"p":"D2","k":5,"v":20},{"p":"D2","k":5,"v":12},{"p":"D2","k":5,"v":5},{"p":"D2","k":5,"v":0},
{"p":"D2","k":6,"v":84},{"p":"D2","k":6,"v":82},{"p":"D2","k":6,"v":60},{"p":"D2","k":6,"v":32},{"p":"D2","k":6,"v":30},{"p":"D2","k":6,"v":15},{"p":"D2","k":6,"v":10},{"p":"D2","k":6,"v":5},{"p":"D2","k":6,"v":3},{"p":"D2","k":6,"v":1},
{"p":"E1","k":1,"v":100},{"p":"E1","k":1,"v":95},{"p":"E1","k":1,"v":90},{"p":"E1","k":1,"v":85},{"p":"E1","k":1,"v":78},{"p":"E1","k":1,"v":75},{"p":"E1","k":1,"v":70},{"p":"E1","k":1,"v":65},{"p":"E1","k":1,"v":58},{"p":"E1","k":1,"v":55},{"p":"E1","k":1,"v":45},{"p":"E1","k":1,"v":35},{"p":"E1","k":1,"v":20},{"p":"E1","k":1,"v":15},{"p":"E1","k":1,"v":8},{"p":"E1","k":1,"v":2},{"p":"E1","k":1,"v":0},
{"p":"E1","k":2,"v":86},{"p":"E1","k":2,"v":65},{"p":"E1","k":2,"v":50},{"p":"E1","k":2,"v":42},{"p":"E1","k":2,"v":35},{"p":"E1","k":2,"v":25},{"p":"E1","k":2,"v":18},{"p":"E1","k":2,"v":12},{"p":"E1","k":2,"v":5},{"p":"E1","k":2,"v":3},{"p":"E1","k":2,"v":0},
{"p":"E1","k":3,"v":53},{"p":"E1","k":3,"v":25},{"p":"E1","k":3,"v":17},{"p":"E1","k":3,"v":12},{"p":"E1","k":3,"v":5},{"p":"E1","k":3,"v":3},{"p":"E1","k":3,"v":2},{"p":"E1","k":3,"v":1},{"p":"E1","k":3,"v":0},
{"p":"E1","k":4,"v":97},{"p":"E1","k":4,"v":75},{"p":"E1","k":4,"v":70},{"p":"E1","k":4,"v":63},{"p":"E1","k":4,"v":55},{"p":"E1","k":4,"v":40},{"p":"E1","k":4,"v":30},{"p":"E1","k":4,"v":25},{"p":"E1","k":4,"v":22},{"p":"E1","k":4,"v":15},{"p":"E1","k":4,"v":10},{"p":"E1","k":4,"v":5},{"p":"E1","k":4,"v":0},
{"p":"E1","k":5,"v":64},{"p":"E1","k":5,"v":35},{"p":"E1","k":5,"v":30},{"p":"E1","k":5,"v":25},{"p":"E1","k":5,"v":18},{"p":"E1","k":5,"v":14},{"p":"E1","k":5,"v":10},{"p":"E1","k":5,"v":6},{"p":"E1","k":5,"v":3},{"p":"E1","k":5,"v":0},
{"p":"E1","k":6,"v":17},{"p":"E1","k":6,"v":12},{"p":"E1","k":6,"v":8},{"p":"E1","k":6,"v":6},{"p":"E1","k":6,"v":4},{"p":"E1","k":6,"v":3},{"p":"E1","k":6,"v":2},{"p":"E1","k":6,"v":1},{"p":"E1","k":6,"v":0},
{"p":"E2","k":1,"v":97},{"p":"E2","k":1,"v":94},{"p":"E2","k":1,"v":90},{"p":"E2","k":1,"v":85},{"p":"E2","k":1,"v":83},{"p":"E2","k":1,"v":78},{"p":"E2","k":1,"v":72},{"p":"E2","k":1,"v":65},{"p":"E2","k":1,"v":61},{"p":"E2","k":1,"v":58},{"p":"E2","k":1,"v":52},{"p":"E2","k":1,"v":45},{"p":"E2","k":1,"v":35},{"p":"E2","k":1,"v":30},{"p":"E2","k":1,"v":25},{"p":"E2","k":1,"v":12},{"p":"E2","k":1,"v":3},{"p":"E2","k":1,"v":0},
{"p":"E2","k":2,"v":89},{"p":"E2","k":2,"v":85},{"p":"E2","k":2,"v":80},{"p":"E2","k":2,"v":72},{"p":"E2","k":2,"v":65},{"p":"E2","k":2,"v":55},{"p":"E2","k":2,"v":47},{"p":"E2","k":2,"v":40},{"p":"E2","k":2,"v":30},{"p":"E2","k":2,"v":15},{"p":"E2","k":2,"v":10},{"p":"E2","k":2,"v":7},
{"p":"E2","k":3,"v":79},{"p":"E2","k":3,"v":45},{"p":"E2","k":3,"v":35},{"p":"E2","k":3,"v":31},{"p":"E2","k":3,"v":25},{"p":"E2","k":3,"v":15},{"p":"E2","k":3,"v":10},{"p":"E2","k":3,"v":9},{"p":"E2","k":3,"v":6},{"p":"E2","k":3,"v":3},{"p":"E2","k":3,"v":1},{"p":"E2","k":3,"v":0},
{"p":"E2","k":4,"v":91},{"p":"E2","k":4,"v":80},{"p":"E2","k":4,"v":72},{"p":"E2","k":4,"v":68},{"p":"E2","k":4,"v":60},{"p":"E2","k":4,"v":50},{"p":"E2","k":4,"v":38},{"p":"E2","k":4,"v":33},{"p":"E2","k":4,"v":28},{"p":"E2","k":4,"v":20},{"p":"E2","k":4,"v":12},{"p":"E2","k":4,"v":5},{"p":"E2","k":4,"v":0},
{"p":"E2","k":5,"v":91},{"p":"E2","k":5,"v":85},{"p":"E2","k":5,"v":65},{"p":"E2","k":5,"v":55},{"p":"E2","k":5,"v":42},{"p":"E2","k":5,"v":40},{"p":"E2","k":5,"v":30},{"p":"E2","k":5,"v":10},{"p":"E2","k":5,"v":5},{"p":"E2","k":5,"v":0},
{"p":"E2","k":6,"v":83},{"p":"E2","k":6,"v":65},{"p":"E2","k":6,"v":55},{"p":"E2","k":6,"v":45},{"p":"E2","k":6,"v":32},{"p":"E2","k":6,"v":25},{"p":"E2","k":6,"v":17},{"p":"E2","k":6,"v":12},{"p":"E2","k":6,"v":10},{"p":"E2","k":6,"v":5},{"p":"E2","k":6,"v":3},
{"p":"F1","k":1,"v":100},{"p":"F1","k":1,"v":95},{"p":"F1","k":1,"v":88},{"p":"F1","k":1,"v":80},{"p":"F1","k":1,"v":76},{"p":"F1","k":1,"v":75},{"p":"F1","k":1,"v":70},{"p":"F1","k":1,"v":60},{"p":"F1","k":1,"v":50},{"p":"F1","k":1,"v":42},{"p":"F1","k":1,"v":35},{"p":"F1","k":1,"v":30},{"p":"F1","k":1,"v":22},{"p":"F1","k":1,"v":15},{"p":"F1","k":1,"v":8},{"p":"F1","k":1,"v":3},{"p":"F1","k":1,"v":1},{"p":"F1","k":1,"v":0},
{"p":"F1","k":2,"v":86},{"p":"F1","k":2,"v":65},{"p":"F1","k":2,"v":55},{"p":"F1","k":2,"v":42},{"p":"F1","k":2,"v":38},{"p":"F1","k":2,"v":30},{"p":"F1","k":2,"v":22},{"p":"F1","k":2,"v":12},{"p":"F1","k":2,"v":8},{"p":"F1","k":2,"v":3},{"p":"F1","k":2,"v":1},{"p":"F1","k":2,"v":0},
{"p":"F1","k":3,"v":53},{"p":"F1","k":3,"v":25},{"p":"F1","k":3,"v":12},{"p":"F1","k":3,"v":8},{"p":"F1","k":3,"v":5},{"p":"F1","k":3,"v":4},{"p":"F1","k":3,"v":3},{"p":"F1","k":3,"v":2},{"p":"F1","k":3,"v":1},{"p":"F1","k":3,"v":0},
{"p":"F1","k":4,"v":97},{"p":"F1","k":4,"v":75},{"p":"F1","k":4,"v":72},{"p":"F1","k":4,"v":65},{"p":"F1","k":4,"v":58},{"p":"F1","k":4,"v":53},{"p":"F1","k":4,"v":45},{"p":"F1","k":4,"v":35},{"p":"F1","k":4,"v":20},{"p":"F1","k":4,"v":18},{"p":"F1","k":4,"v":12},{"p":"F1","k":4,"v":10},
{"p":"F1","k":5,"v":64},{"p":"F1","k":5,"v":35},{"p":"F1","k":5,"v":32},{"p":"F1","k":5,"v":25},{"p":"F1","k":5,"v":20},{"p":"F1","k":5,"v":15},{"p":"F1","k":5,"v":8},{"p":"F1","k":5,"v":5},{"p":"F1","k":5,"v":3},
{"p":"F1","k":6,"v":39},{"p":"F1","k":6,"v":15},{"p":"F1","k":6,"v":10},{"p":"F1","k":6,"v":5},{"p":"F1","k":6,"v":2},{"p":"F1","k":6,"v":1},{"p":"F1","k":6,"v":0},
{"p":"F2","k":1,"v":97},{"p":"F2","k":1,"v":95},{"p":"F2","k":1,"v":92},{"p":"F2","k":1,"v":88},{"p":"F2","k":1,"v":85},{"p":"F2","k":1,"v":80},{"p":"F2","k":1,"v":75},{"p":"F2","k":1,"v":68},{"p":"F2","k":1,"v":62},{"p":"F2","k":1,"v":57},{"p":"F2","k":1,"v":52},{"p":"F2","k":1,"v":45},{"p":"F2","k":1,"v":38},{"p":"F2","k":1,"v":30},{"p":"F2","k":1,"v":20},{"p":"F2","k":1,"v":14},{"p":"F2","k":1,"v":8},{"p":"F2","k":1,"v":2},{"p":"F2","k":1,"v":0},
{"p":"F2","k":2,"v":89},{"p":"F2","k":2,"v":85},{"p":"F2","k":2,"v":75},{"p":"F2","k":2,"v":68},{"p":"F2","k":2,"v":60},{"p":"F2","k":2,"v":50},{"p":"F2","k":2,"v":40},{"p":"F2","k":2,"v":34},{"p":"F2","k":2,"v":25},{"p":"F2","k":2,"v":15},{"p":"F2","k":2,"v":13},{"p":"F2","k":2,"v":5},{"p":"F2","k":2,"v":0},
{"p":"F2","k":3,"v":83},{"p":"F2","k":3,"v":80},{"p":"F2","k":3,"v":50},{"p":"F2","k":3,"v":40},{"p":"F2","k":3,"v":34},{"p":"F2","k":3,"v":25},{"p":"F2","k":3,"v":15},{"p":"F2","k":3,"v":11},{"p":"F2","k":3,"v":8},{"p":"F2","k":3,"v":5},{"p":"F2","k":3,"v":3},{"p":"F2","k":3,"v":1},{"p":"F2","k":3,"v":0},
{"p":"F2","k":4,"v":90},{"p":"F2","k":4,"v":67},{"p":"F2","k":4,"v":65},{"p":"F2","k":4,"v":58},{"p":"F2","k":4,"v":51},{"p":"F2","k":4,"v":45},{"p":"F2","k":4,"v":35},{"p":"F2","k":4,"v":26},{"p":"F2","k":4,"v":20},{"p":"F2","k":4,"v":5},
{"p":"F2","k":5,"v":91},{"p":"F2","k":5,"v":85},{"p":"F2","k":5,"v":76},{"p":"F2","k":5,"v":60},{"p":"F2","k":5,"v":50},{"p":"F2","k":5,"v":46},{"p":"F2","k":5,"v":42},{"p":"F2","k":5,"v":30},{"p":"F2","k":5,"v":18},{"p":"F2","k":5,"v":5},{"p":"F2","k":5,"v":0},
{"p":"F2","k":6,"v":60},{"p":"F2","k":6,"v":32},{"p":"F2","k":6,"v":30},{"p":"F2","k":6,"v":20},{"p":"F2","k":6,"v":12},{"p":"F2","k":6,"v":10},{"p":"F2","k":6,"v":8},{"p":"F2","k":6,"v":5},{"p":"F2","k":6,"v":2},
{"p":"G1","k":1,"v":100},{"p":"G1","k":1,"v":97},{"p":"G1","k":1,"v":92},{"p":"G1","k":1,"v":88},{"p":"G1","k":1,"v":75},{"p":"G1","k":1,"v":60},{"p":"G1","k":1,"v":45},{"p":"G1","k":1,"v":30},{"p":"G1","k":1,"v":22},{"p":"G1","k":1,"v":20},{"p":"G1","k":1,"v":15},{"p":"G1","k":1,"v":12},{"p":"G1","k":1,"v":10},{"p":"G1","k":1,"v":6},{"p":"G1","k":1,"v":3},{"p":"G1","k":1,"v":0},
{"p":"G1","k":2,"v":49},{"p":"G1","k":2,"v":22},{"p":"G1","k":2,"v":10},{"p":"G1","k":2,"v":5},{"p":"G1","k":2,"v":2},{"p":"G1","k":2,"v":1},{"p":"G1","k":2,"v":0},
{"p":"G1","k":3,"v":50},{"p":"G1","k":3,"v":5},{"p":"G1","k":3,"v":4},{"p":"G1","k":3,"v":3},{"p":"G1","k":3,"v":2},{"p":"G1","k":3,"v":1},{"p":"G1","k":3,"v":1},{"p":"G1","k":3,"v":0},
{"p":"G1","k":4,"v":96},{"p":"G1","k":4,"v":92},{"p":"G1","k":4,"v":85},{"p":"G1","k":4,"v":78},{"p":"G1","k":4,"v":73},{"p":"G1","k":4,"v":70},{"p":"G1","k":4,"v":62},{"p":"G1","k":4,"v":52},{"p":"G1","k":4,"v":45},{"p":"G1","k":4,"v":40},{"p":"G1","k":4,"v":30},{"p":"G1","k":4,"v":20},{"p":"G1","k":4,"v":12},{"p":"G1","k":4,"v":5},{"p":"G1","k":4,"v":0},
{"p":"G1","k":5,"v":60},{"p":"G1","k":5,"v":30},{"p":"G1","k":5,"v":25},{"p":"G1","k":5,"v":15},{"p":"G1","k":5,"v":13},{"p":"G1","k":5,"v":8},{"p":"G1","k":5,"v":6},{"p":"G1","k":5,"v":5},{"p":"G1","k":5,"v":4},{"p":"G1","k":5,"v":3},{"p":"G1","k":5,"v":1},{"p":"G1","k":5,"v":0},
{"p":"G1","k":6,"v":33},{"p":"G1","k":6,"v":5},{"p":"G1","k":6,"v":4},{"p":"G1","k":6,"v":3},{"p":"G1","k":6,"v":2},{"p":"G1","k":6,"v":1},{"p":"G1","k":6,"v":1},{"p":"G1","k":6,"v":0},
{"p":"G2","k":1,"v":96},{"p":"G2","k":1,"v":93},{"p":"G2","k":1,"v":75},{"p":"G2","k":1,"v":65},{"p":"G2","k":1,"v":57},{"p":"G2","k":1,"v":52},{"p":"G2","k":1,"v":45},{"p":"G2","k":1,"v":38},{"p":"G2","k":1,"v":33},{"p":"G2","k":1,"v":28},{"p":"G2","k":1,"v":20},{"p":"G2","k":1,"v":12},{"p":"G2","k":1,"v":9},{"p":"G2","k":1,"v":5},{"p":"G2","k":1,"v":2},{"p":"G2","k":1,"v":0},
{"p":"G2","k":2,"v":55},{"p":"G2","k":2,"v":50},{"p":"G2","k":2,"v":48},{"p":"G2","k":2,"v":2},{"p":"G2","k":2,"v":1},{"p":"G2","k":2,"v":0},
{"p":"G2","k":3,"v":19},{"p":"G2","k":3,"v":15},{"p":"G2","k":3,"v":10},{"p":"G2","k":3,"v":8},{"p":"G2","k":3,"v":5},{"p":"G2","k":3,"v":3},{"p":"G2","k":3,"v":1},{"p":"G2","k":3,"v":0},
{"p":"G2","k":4,"v":76},{"p":"G2","k":4,"v":72},{"p":"G2","k":4,"v":60},{"p":"G2","k":4,"v":52},{"p":"G2","k":4,"v":47},{"p":"G2","k":4,"v":40},{"p":"G2","k":4,"v":35},{"p":"G2","k":4,"v":30},{"p":"G2","k":4,"v":25},{"p":"G2","k":4,"v":15},{"p":"G2","k":4,"v":8},{"p":"G2","k":4,"v":6},{"p":"G2","k":4,"v":2},{"p":"G2","k":4,"v":0},
{"p":"G2","k":5,"v":78},{"p":"G2","k":5,"v":47},{"p":"G2","k":5,"v":30},{"p":"G2","k":5,"v":21},{"p":"G2","k":5,"v":15},{"p":"G2","k":5,"v":12},{"p":"G2","k":5,"v":8},{"p":"G2","k":5,"v":5},{"p":"G2","k":5,"v":2},{"p":"G2","k":5,"v":1},{"p":"G2","k":5,"v":0},
{"p":"G2","k":6,"v":53},{"p":"G2","k":6,"v":50},{"p":"G2","k":6,"v":24},{"p":"G2","k":6,"v":23},{"p":"G2","k":6,"v":20},{"p":"G2","k":6,"v":2},{"p":"G2","k":6,"v":1},{"p":"G2","k":6,"v":0},
{"p":"H1","k":1,"v":100},{"p":"H1","k":1,"v":97},{"p":"H1","k":1,"v":92},{"p":"H1","k":1,"v":88},{"p":"H1","k":1,"v":82},{"p":"H1","k":1,"v":75},{"p":"H1","k":1,"v":68},{"p":"H1","k":1,"v":58},{"p":"H1","k":1,"v":52},{"p":"H1","k":1,"v":48},{"p":"H1","k":1,"v":42},{"p":"H1","k":1,"v":35},{"p":"H1","k":1,"v":28},{"p":"H1","k":1,"v":20},{"p":"H1","k":1,"v":12},{"p":"H1","k":1,"v":5},{"p":"H1","k":1,"v":0},
{"p":"H1","k":2,"v":49},{"p":"H1","k":2,"v":15},{"p":"H1","k":2,"v":13},{"p":"H1","k":2,"v":8},{"p":"H1","k":2,"v":4},{"p":"H1","k":2,"v":3},{"p":"H1","k":2,"v":2},{"p":"H1","k":2,"v":1},{"p":"H1","k":2,"v":0},
{"p":"H1","k":3,"v":50},{"p":"H1","k":3,"v":28},{"p":"H1","k":3,"v":6},{"p":"H1","k":3,"v":4},{"p":"H1","k":3,"v":3},{"p":"H1","k":3,"v":2},{"p":"H1","k":3,"v":1},{"p":"H1","k":3,"v":0},
{"p":"H1","k":4,"v":96},{"p":"H1","k":4,"v":75},{"p":"H1","k":4,"v":72},{"p":"H1","k":4,"v":60},{"p":"H1","k":4,"v":50},{"p":"H1","k":4,"v":40},{"p":"H1","k":4,"v":28},{"p":"H1","k":4,"v":22},{"p":"H1","k":4,"v":18},{"p":"H1","k":4,"v":12},{"p":"H1","k":4,"v":7},{"p":"H1","k":4,"v":3},{"p":"H1","k":4,"v":0},
{"p":"H1","k":5,"v":60},{"p":"H1","k":5,"v":30},{"p":"H1","k":5,"v":28},{"p":"H1","k":5,"v":16},{"p":"H1","k":5,"v":10},{"p":"H1","k":5,"v":5},{"p":"H1","k":5,"v":3},{"p":"H1","k":5,"v":2},{"p":"H1","k":5,"v":0},
{"p":"H1","k":6,"v":46},{"p":"H1","k":6,"v":10},{"p":"H1","k":6,"v":5},{"p":"H1","k":6,"v":3},{"p":"H1","k":6,"v":2},{"p":"H1","k":6,"v":1},{"p":"H1","k":6,"v":0},
{"p":"H2","k":1,"v":96},{"p":"H2","k":1,"v":92},{"p":"H2","k":1,"v":75},{"p":"H2","k":1,"v":68},{"p":"H2","k":1,"v":62},{"p":"H2","k":1,"v":55},{"p":"H2","k":1,"v":48},{"p":"H2","k":1,"v":42},{"p":"H2","k":1,"v":36},{"p":"H2","k":1,"v":30},{"p":"H2","k":1,"v":22},{"p":"H2","k":1,"v":15},{"p":"H2","k":1,"v":11},{"p":"H2","k":1,"v":5},{"p":"H2","k":1,"v":2},{"p":"H2","k":1,"v":0},
{"p":"H2","k":2,"v":55},{"p":"H2","k":2,"v":47},{"p":"H2","k":2,"v":45},{"p":"H2","k":2,"v":12},{"p":"H2","k":2,"v":11},{"p":"H2","k":2,"v":3},{"p":"H2","k":2,"v":1},{"p":"H2","k":2,"v":0},
{"p":"H2","k":3,"v":50},{"p":"H2","k":3,"v":27},{"p":"H2","k":3,"v":5},{"p":"H2","k":3,"v":4},{"p":"H2","k":3,"v":3},{"p":"H2","k":3,"v":2},{"p":"H2","k":3,"v":1},{"p":"H2","k":3,"v":0},
{"p":"H2","k":4,"v":76},{"p":"H2","k":4,"v":57},{"p":"H2","k":4,"v":52},{"p":"H2","k":4,"v":45},{"p":"H2","k":4,"v":38},{"p":"H2","k":4,"v":30},{"p":"H2","k":4,"v":26},{"p":"H2","k":4,"v":18},{"p":"H2","k":4,"v":10},{"p":"H2","k":4,"v":5},{"p":"H2","k":4,"v":2},{"p":"H2","k":4,"v":0},
{"p":"H2","k":5,"v":78},{"p":"H2","k":5,"v":30},{"p":"H2","k":5,"v":25},{"p":"H2","k":5,"v":21},{"p":"H2","k":5,"v":12},{"p":"H2","k":5,"v":3},{"p":"H2","k":5,"v":1},{"p":"H2","k":5,"v":0},
{"p":"H2","k":6,"v":53},{"p":"H2","k":6,"v":22},{"p":"H2","k":6,"v":19},{"p":"H2","k":6,"v":15},{"p":"H2","k":6,"v":10},{"p":"H2","k":6,"v":6},{"p":"H2","k":6,"v":3},{"p":"H2","k":6,"v":1},{"p":"H2","k":6,"v":0},
{"p":"I1","k":1,"v":98},{"p":"I1","k":1,"v":94},{"p":"I1","k":1,"v":88},{"p":"I1","k":1,"v":80},{"p":"I1","k":1,"v":72},{"p":"I1","k":1,"v":65},{"p":"I1","k":1,"v":55},{"p":"I1","k":1,"v":45},{"p":"I1","k":1,"v":38},{"p":"I1","k":1,"v":32},{"p":"I1","k":1,"v":27},{"p":"I1","k":1,"v":22},{"p":"I1","k":1,"v":15},{"p":"I1","k":1,"v":10},{"p":"I1","k":1,"v":5},{"p":"I1","k":1,"v":2},{"p":"I1","k":1,"v":0},
{"p":"I1","k":2,"v":49},{"p":"I1","k":2,"v":20},{"p":"I1","k":2,"v":11},{"p":"I1","k":2,"v":8},{"p":"I1","k":2,"v":5},{"p":"I1","k":2,"v":3},{"p":"I1","k":2,"v":2},{"p":"I1","k":2,"v":1},{"p":"I1","k":2,"v":0},
{"p":"I1","k":3,"v":33},{"p":"I1","k":3,"v":6},{"p":"I1","k":3,"v":3},{"p":"I1","k":3,"v":2},{"p":"I1","k":3,"v":2},{"p":"I1","k":3,"v":1},{"p":"I1","k":3,"v":0},
{"p":"I1","k":4,"v":100},{"p":"I1","k":4,"v":85},{"p":"I1","k":4,"v":74},{"p":"I1","k":4,"v":65},{"p":"I1","k":4,"v":55},{"p":"I1","k":4,"v":50},{"p":"I1","k":4,"v":45},{"p":"I1","k":4,"v":35},{"p":"I1","k":4,"v":19},{"p":"I1","k":4,"v":15},{"p":"I1","k":4,"v":2},{"p":"I1","k":4,"v":0},
{"p":"I1","k":5,"v":60},{"p":"I1","k":5,"v":30},{"p":"I1","k":5,"v":26},{"p":"I1","k":5,"v":15},{"p":"I1","k":5,"v":5},{"p":"I1","k":5,"v":3},{"p":"I1","k":5,"v":2},{"p":"I1","k":5,"v":0},
{"p":"I1","k":6,"v":50},{"p":"I1","k":6,"v":45},{"p":"I1","k":6,"v":14},{"p":"I1","k":6,"v":8},{"p":"I1","k":6,"v":2},{"p":"I1","k":6,"v":1},{"p":"I1","k":6,"v":0},
{"p":"I2","k":1,"v":96},{"p":"I2","k":1,"v":92},{"p":"I2","k":1,"v":75},{"p":"I2","k":1,"v":65},{"p":"I2","k":1,"v":53},{"p":"I2","k":1,"v":48},{"p":"I2","k":1,"v":42},{"p":"I2","k":1,"v":35},{"p":"I2","k":1,"v":28},{"p":"I2","k":1,"v":21},{"p":"I2","k":1,"v":15},{"p":"I2","k":1,"v":10},{"p":"I2","k":1,"v":4},{"p":"I2","k":1,"v":2},{"p":"I2","k":1,"v":0},
{"p":"I2","k":2,"v":55},{"p":"I2","k":2,"v":45},{"p":"I2","k":2,"v":15},{"p":"I2","k":2,"v":13},{"p":"I2","k":2,"v":8},{"p":"I2","k":2,"v":3},{"p":"I2","k":2,"v":2},{"p":"I2","k":2,"v":1},{"p":"I2","k":2,"v":0},
{"p":"I2","k":3,"v":53},{"p":"I2","k":3,"v":28},{"p":"I2","k":3,"v":15},{"p":"I2","k":3,"v":14},{"p":"I2","k":3,"v":8},{"p":"I2","k":3,"v":3},{"p":"I2","k":3,"v":2},{"p":"I2","k":3,"v":1},{"p":"I2","k":3,"v":0},
{"p":"I2","k":4,"v":76},{"p":"I2","k":4,"v":57},{"p":"I2","k":4,"v":52},{"p":"I2","k":4,"v":44},{"p":"I2","k":4,"v":40},{"p":"I2","k":4,"v":35},{"p":"I2","k":4,"v":32},{"p":"I2","k":4,"v":25},{"p":"I2","k":4,"v":12},{"p":"I2","k":4,"v":10},{"p":"I2","k":4,"v":3},{"p":"I2","k":4,"v":0},
{"p":"I2","k":5,"v":78},{"p":"I2","k":5,"v":45},{"p":"I2","k":5,"v":34},{"p":"I2","k":5,"v":25},{"p":"I2","k":5,"v":12},{"p":"I2","k":5,"v":5},{"p":"I2","k":5,"v":1},{"p":"I2","k":5,"v":0},
{"p":"I2","k":6,"v":23},{"p":"I2","k":6,"v":20},{"p":"I2","k":6,"v":18},{"p":"I2","k":6,"v":12},{"p":"I2","k":6,"v":2},{"p":"I2","k":6,"v":1},{"p":"I2","k":6,"v":0},
{"p":"J1","k":1,"v":91},{"p":"J1","k":1,"v":90},{"p":"J1","k":1,"v":77},{"p":"J1","k":1,"v":72},{"p":"J1","k":1,"v":57},{"p":"J1","k":1,"v":38},{"p":"J1","k":1,"v":35},{"p":"J1","k":1,"v":28},{"p":"J1","k":1,"v":15},{"p":"J1","k":1,"v":11},{"p":"J1","k":1,"v":8},{"p":"J1","k":1,"v":5},{"p":"J1","k":1,"v":2},{"p":"J1","k":1,"v":1},{"p":"J1","k":1,"v":0},
{"p":"J1","k":2,"v":61},{"p":"J1","k":2,"v":55},{"p":"J1","k":2,"v":40},{"p":"J1","k":2,"v":35},{"p":"J1","k":2,"v":21},{"p":"J1","k":2,"v":10},{"p":"J1","k":2,"v":5},{"p":"J1","k":2,"v":2},{"p":"J1","k":2,"v":0},
{"p":"J1","k":3,"v":31},{"p":"J1","k":3,"v":24},{"p":"J1","k":3,"v":6},{"p":"J1","k":3,"v":3},{"p":"J1","k":3,"v":2},{"p":"J1","k":3,"v":1},{"p":"J1","k":3,"v":0},{"p":"J1","k":3,"v":0},
{"p":"J1","k":4,"v":87},{"p":"J1","k":4,"v":77},{"p":"J1","k":4,"v":75},{"p":"J1","k":4,"v":60},{"p":"J1","k":4,"v":46},{"p":"J1","k":4,"v":42},{"p":"J1","k":4,"v":36},{"p":"J1","k":4,"v":29},{"p":"J1","k":4,"v":25},{"p":"J1","k":4,"v":15},{"p":"J1","k":4,"v":5},{"p":"J1","k":4,"v":2},{"p":"J1","k":4,"v":0},
{"p":"J1","k":5,"v":41},{"p":"J1","k":5,"v":28},{"p":"J1","k":5,"v":20},{"p":"J1","k":5,"v":8},{"p":"J1","k":5,"v":6},{"p":"J1","k":5,"v":4},{"p":"J1","k":5,"v":3},{"p":"J1","k":5,"v":2},{"p":"J1","k":5,"v":1},{"p":"J1","k":5,"v":0},
{"p":"J1","k":6,"v":26},{"p":"J1","k":6,"v":25},{"p":"J1","k":6,"v":10},{"p":"J1","k":6,"v":5},{"p":"J1","k":6,"v":3},{"p":"J1","k":6,"v":2},{"p":"J1","k":6,"v":1},{"p":"J1","k":6,"v":0},
{"p":"J2","k":1,"v":63},{"p":"J2","k":1,"v":62},{"p":"J2","k":1,"v":36},{"p":"J2","k":1,"v":28},{"p":"J2","k":1,"v":22},{"p":"J2","k":1,"v":13},{"p":"J2","k":1,"v":8},{"p":"J2","k":1,"v":5},{"p":"J2","k":1,"v":3},{"p":"J2","k":1,"v":2},{"p":"J2","k":1,"v":1},{"p":"J2","k":1,"v":0},
{"p":"J2","k":2,"v":28},{"p":"J2","k":2,"v":7},{"p":"J2","k":2,"v":4},{"p":"J2","k":2,"v":3},{"p":"J2","k":2,"v":2},{"p":"J2","k":2,"v":1},{"p":"J2","k":2,"v":0},
{"p":"J2","k":3,"v":14},{"p":"J2","k":3,"v":2},{"p":"J2","k":3,"v":1},{"p":"J2","k":3,"v":1},{"p":"J2","k":3,"v":0},{"p":"J2","k":3,"v":0},
{"p":"J2","k":4,"v":48},{"p":"J2","k":4,"v":42},{"p":"J2","k":4,"v":30},{"p":"J2","k":4,"v":12},{"p":"J2","k":4,"v":8},{"p":"J2","k":4,"v":6},{"p":"J2","k":4,"v":4},{"p":"J2","k":4,"v":3},{"p":"J2","k":4,"v":2},{"p":"J2","k":4,"v":1},{"p":"J2","k":4,"v":0},
{"p":"J2","k":5,"v":14},{"p":"J2","k":5,"v":12},{"p":"J2","k":5,"v":8},{"p":"J2","k":5,"v":6},{"p":"J2","k":5,"v":4},{"p":"J2","k":5,"v":3},{"p":"J2","k":5,"v":2},{"p":"J2","k":5,"v":1},{"p":"J2","k":5,"v":0},
{"p":"J2","k":6,"v":10},{"p":"J2","k":6,"v":6},{"p":"J2","k":6,"v":4},{"p":"J2","k":6,"v":2},{"p":"J2","k":6,"v":1},{"p":"J2","k":6,"v":0},
{"p":"K1","k":1,"v":91},{"p":"K1","k":1,"v":90},{"p":"K1","k":1,"v":78},{"p":"K1","k":1,"v":77},{"p":"K1","k":1,"v":70},{"p":"K1","k":1,"v":65},{"p":"K1","k":1,"v":60},{"p":"K1","k":1,"v":46},{"p":"K1","k":1,"v":12},{"p":"K1","k":1,"v":8},{"p":"K1","k":1,"v":5},{"p":"K1","k":1,"v":3},{"p":"K1","k":1,"v":2},{"p":"K1","k":1,"v":0},
{"p":"K1","k":2,"v":61},{"p":"K1","k":2,"v":50},{"p":"K1","k":2,"v":40},{"p":"K1","k":2,"v":35},{"p":"K1","k":2,"v":28},{"p":"K1","k":2,"v":15},{"p":"K1","k":2,"v":10},{"p":"K1","k":2,"v":3},{"p":"K1","k":2,"v":1},{"p":"K1","k":2,"v":0},
{"p":"K1","k":3,"v":26},{"p":"K1","k":3,"v":10},{"p":"K1","k":3,"v":5},{"p":"K1","k":3,"v":3},{"p":"K1","k":3,"v":2},{"p":"K1","k":3,"v":1},{"p":"K1","k":3,"v":0},
{"p":"K1","k":4,"v":81},{"p":"K1","k":4,"v":38},{"p":"K1","k":4,"v":36},{"p":"K1","k":4,"v":35},{"p":"K1","k":4,"v":30},{"p":"K1","k":4,"v":25},{"p":"K1","k":4,"v":23},{"p":"K1","k":4,"v":18},{"p":"K1","k":4,"v":12},{"p":"K1","k":4,"v":5},{"p":"K1","k":4,"v":4},{"p":"K1","k":4,"v":2},
{"p":"K1","k":5,"v":22},{"p":"K1","k":5,"v":10},{"p":"K1","k":5,"v":8},{"p":"K1","k":5,"v":7},{"p":"K1","k":5,"v":6},{"p":"K1","k":5,"v":5},{"p":"K1","k":5,"v":3},{"p":"K1","k":5,"v":2},{"p":"K1","k":5,"v":0},
{"p":"K1","k":6,"v":31},{"p":"K1","k":6,"v":25},{"p":"K1","k":6,"v":16},{"p":"K1","k":6,"v":8},{"p":"K1","k":6,"v":3},{"p":"K1","k":6,"v":1},{"p":"K1","k":6,"v":0},
{"p":"K2","k":1,"v":63},{"p":"K2","k":1,"v":48},{"p":"K2","k":1,"v":36},{"p":"K2","k":1,"v":32},{"p":"K2","k":1,"v":23},{"p":"K2","k":1,"v":20},{"p":"K2","k":1,"v":12},{"p":"K2","k":1,"v":9},{"p":"K2","k":1,"v":8},{"p":"K2","k":1,"v":6},{"p":"K2","k":1,"v":4},{"p":"K2","k":1,"v":2},{"p":"K2","k":1,"v":1},{"p":"K2","k":1,"v":0},
{"p":"K2","k":2,"v":28},{"p":"K2","k":2,"v":12},{"p":"K2","k":2,"v":7},{"p":"K2","k":2,"v":6},{"p":"K2","k":2,"v":4},{"p":"K2","k":2,"v":3},{"p":"K2","k":2,"v":2},{"p":"K2","k":2,"v":0},
{"p":"K2","k":3,"v":14},{"p":"K2","k":3,"v":8},{"p":"K2","k":3,"v":2},{"p":"K2","k":3,"v":1},{"p":"K2","k":3,"v":1},{"p":"K2","k":3,"v":0},
{"p":"K2","k":4,"v":42},{"p":"K2","k":4,"v":28},{"p":"K2","k":4,"v":12},{"p":"K2","k":4,"v":8},{"p":"K2","k":4,"v":5},{"p":"K2","k":4,"v":3},{"p":"K2","k":4,"v":2},{"p":"K2","k":4,"v":1},{"p":"K2","k":4,"v":0},
{"p":"K2","k":5,"v":14},{"p":"K2","k":5,"v":8},{"p":"K2","k":5,"v":5},{"p":"K2","k":5,"v":3},{"p":"K2","k":5,"v":1},{"p":"K2","k":5,"v":0},
{"p":"K2","k":6,"v":11},{"p":"K2","k":6,"v":2},{"p":"K2","k":6,"v":1},{"p":"K2","k":6,"v":1},{"p":"K2","k":6,"v":0},
{"p":"L1","k":1,"v":91},{"p":"L1","k":1,"v":88},{"p":"L1","k":1,"v":78},{"p":"L1","k":1,"v":77},{"p":"L1","k":1,"v":75},{"p":"L1","k":1,"v":60},{"p":"L1","k":1,"v":55},{"p":"L1","k":1,"v":40},{"p":"L1","k":1,"v":38},{"p":"L1","k":1,"v":30},{"p":"L1","k":1,"v":25},{"p":"L1","k":1,"v":20},{"p":"L1","k":1,"v":14},{"p":"L1","k":1,"v":10},{"p":"L1","k":1,"v":5},{"p":"L1","k":1,"v":2},{"p":"L1","k":1,"v":0},
{"p":"L1","k":2,"v":61},{"p":"L1","k":2,"v":42},{"p":"L1","k":2,"v":38},{"p":"L1","k":2,"v":30},{"p":"L1","k":2,"v":20},{"p":"L1","k":2,"v":15},{"p":"L1","k":2,"v":9},{"p":"L1","k":2,"v":5},{"p":"L1","k":2,"v":1},{"p":"L1","k":2,"v":0},
{"p":"L1","k":3,"v":26},{"p":"L1","k":3,"v":10},{"p":"L1","k":3,"v":6},{"p":"L1","k":3,"v":5},{"p":"L1","k":3,"v":3},{"p":"L1","k":3,"v":2},{"p":"L1","k":3,"v":1},{"p":"L1","k":3,"v":0},
{"p":"L1","k":4,"v":90},{"p":"L1","k":4,"v":80},{"p":"L1","k":4,"v":38},{"p":"L1","k":4,"v":35},{"p":"L1","k":4,"v":33},{"p":"L1","k":4,"v":28},{"p":"L1","k":4,"v":24},{"p":"L1","k":4,"v":15},{"p":"L1","k":4,"v":10},{"p":"L1","k":4,"v":4},{"p":"L1","k":4,"v":0},
{"p":"L1","k":5,"v":22},{"p":"L1","k":5,"v":8},{"p":"L1","k":5,"v":7},{"p":"L1","k":5,"v":6},{"p":"L1","k":5,"v":5},{"p":"L1","k":5,"v":4},{"p":"L1","k":5,"v":3},{"p":"L1","k":5,"v":2},
{"p":"L1","k":6,"v":31},{"p":"L1","k":6,"v":25},{"p":"L1","k":6,"v":24},{"p":"L1","k":6,"v":8},{"p":"L1","k":6,"v":1},{"p":"L1","k":6,"v":0},
{"p":"L2","k":1,"v":63},{"p":"L2","k":1,"v":62},{"p":"L2","k":1,"v":48},{"p":"L2","k":1,"v":42},{"p":"L2","k":1,"v":30},{"p":"L2","k":1,"v":22},{"p":"L2","k":1,"v":10},{"p":"L2","k":1,"v":8},{"p":"L2","k":1,"v":5},{"p":"L2","k":1,"v":3},{"p":"L2","k":1,"v":2},{"p":"L2","k":1,"v":1},{"p":"L2","k":1,"v":0},
{"p":"L2","k":2,"v":28},{"p":"L2","k":2,"v":14},{"p":"L2","k":2,"v":12},{"p":"L2","k":2,"v":7},{"p":"L2","k":2,"v":5},{"p":"L2","k":2,"v":4},{"p":"L2","k":2,"v":3},{"p":"L2","k":2,"v":2},{"p":"L2","k":2,"v":0},
{"p":"L2","k":3,"v":13},{"p":"L2","k":3,"v":6},{"p":"L2","k":3,"v":3},{"p":"L2","k":3,"v":2},{"p":"L2","k":3,"v":1},{"p":"L2","k":3,"v":0},{"p":"L2","k":3,"v":0},
{"p":"L2","k":4,"v":28},{"p":"L2","k":4,"v":13},{"p":"L2","k":4,"v":11},{"p":"L2","k":4,"v":10},{"p":"L2","k":4,"v":8},{"p":"L2","k":4,"v":5},{"p":"L2","k":4,"v":4},{"p":"L2","k":4,"v":3},{"p":"L2","k":4,"v":1},{"p":"L2","k":4,"v":0},
{"p":"L2","k":5,"v":7},{"p":"L2","k":5,"v":6},{"p":"L2","k":5,"v":5},{"p":"L2","k":5,"v":3},{"p":"L2","k":5,"v":2},{"p":"L2","k":5,"v":1},{"p":"L2","k":5,"v":0},
{"p":"L2","k":6,"v":10},{"p":"L2","k":6,"v":1},{"p":"L2","k":6,"v":1},{"p":"L2","k":6,"v":0},{"p":"L2","k":6,"v":0}
]},
"spacing":30,
"vconcat":[
{"spacing":56,"hconcat":[
{"spacing":0,"hconcat":[
{"data":{"name":"d"},"transform":[{"filter":{"field":"p","oneOf":["A1","B1","C1"]}}],"facet":{"row":{"field":"p","type":"nominal","header":{"labels":false,"title":null}}},"spacing":65,"bounds":"flush","resolve":{"axis":{"x":"independent","y":"independent"}},
"spec":{"width":145,"height":94,"encoding":{"x":{"field":"k","type":"nominal","scale":{"domain":[1,2,3,4,5,6],"paddingInner":0,"paddingOuter":0.1},"axis":{"title":null,"labelExpr":"['','PB','PF','TT','PB','PF','TT'][datum.value]"}}},
"layer":[
{"transform":[{"filter":"datum.q1!=null"}],"mark":"rule","encoding":{"y":{"field":"lo","type":"quantitative","scale":{"domain":[0,150]},"axis":{"title":"% total M-MDSCs","values":[0,50,100,150]}},"y2":{"field":"hi"}}},
{"transform":[{"filter":"datum.q1!=null"}],"mark":{"type":"bar","width":{"band":0.65},"fill":"#e2e2e2","stroke":"#555","strokeWidth":0.7},"encoding":{"y":{"field":"q1","type":"quantitative"},"y2":{"field":"q3"}}},
{"transform":[{"filter":"datum.q1!=null"}],"mark":{"type":"tick","size":15},"encoding":{"y":{"field":"md","type":"quantitative"}}},
{"transform":[{"filter":"datum.q1!=null"},{"fold":["lo","hi"],"as":["w","c"]}],"mark":{"type":"tick","size":7},"encoding":{"y":{"field":"c","type":"quantitative"}}},
{"transform":[{"filter":"datum.v!=null"},{"window":[{"op":"row_number","as":"rn"}],"groupby":["p","k"]},{"calculate":"[0,-2,2,-1,1][datum.rn%5]","as":"j"}],"mark":"circle","encoding":{"y":{"field":"v","type":"quantitative"},"xOffset":{"field":"j","type":"quantitative","scale":{"domain":[-2,2],"range":[6.7,16.7]}},"color":{"field":"k","type":"nominal","scale":{"domain":[1,2,3,4,5,6],"range":["#e5262c","#1d1d9e","#33b333","#e5262c","#1d1d9e","#33b333"]},"legend":null}}},
{"transform":[{"filter":"datum.s!=null"}],"mark":"rule","encoding":{"x":{"field":"a","type":"nominal"},"x2":{"field":"b"},"y":{"field":"y","type":"quantitative"}}},
{"transform":[{"filter":"datum.s!=null&&datum.m!=null"}],"mark":"text","encoding":{"x":{"field":"m","type":"nominal"},"y":{"field":"y","type":"quantitative"},"text":{"field":"s"}}},
{"transform":[{"filter":"datum.s!=null&&datum.m==null"}],"mark":"text","encoding":{"x":{"field":"a","type":"nominal","bandPosition":1},"y":{"field":"y","type":"quantitative"},"text":{"field":"s"}}},
{"transform":[{"filter":"datum.g!=null"}],"mark":"rule","encoding":{"x":{"field":"a","type":"nominal","bandPosition":0.25},"x2":{"field":"b","bandPosition":0.75},"y":{"datum":-43,"type":"quantitative"}}},
{"transform":[{"filter":"datum.g!=null"}],"mark":{"type":"text","baseline":"top","dy":1.5},"encoding":{"x":{"field":"m","type":"nominal"},"y":{"datum":-43,"type":"quantitative"},"text":{"field":"g"}}},
{"transform":[{"filter":"datum.ti!=null"}],"mark":{"type":"text","baseline":"middle","fontSize":7.5,"dy":-13.5},"encoding":{"x":{"field":"b","type":"nominal","bandPosition":1},"y":{"datum":150,"type":"quantitative"},"text":{"field":"ti"}}},
{"transform":[{"filter":"datum.ti!=null"}],"mark":{"type":"text","baseline":"middle","fontSize":16,"color":"#000","dx":-25,"dy":-22},"encoding":{"x":{"field":"a","type":"nominal","bandPosition":0},"y":{"datum":150,"type":"quantitative"},"text":{"field":"L"}}}
]}},
{"data":{"name":"d"},"transform":[{"filter":{"field":"p","oneOf":["A2","B2","C2"]}}],"facet":{"row":{"field":"p","type":"nominal","header":{"labels":false,"title":null}}},"spacing":65,"bounds":"flush","resolve":{"axis":{"x":"independent","y":"independent"}},
"spec":{"width":148,"height":94,"encoding":{"x":{"field":"k","type":"nominal","scale":{"domain":[1,2,3,4,5,6],"paddingInner":0,"paddingOuter":0.1},"axis":{"title":null,"labelExpr":"['','PB','PF','TT','PB','PF','TT'][datum.value]"}}},
"layer":[
{"transform":[{"filter":"datum.q1!=null"}],"mark":"rule","encoding":{"y":{"field":"lo","type":"quantitative","scale":{"domain":[0,150]},"axis":{"title":"% total PMN-MDSCs","values":[0,50,100,150]}},"y2":{"field":"hi"}}},
{"transform":[{"filter":"datum.q1!=null"}],"mark":{"type":"bar","width":{"band":0.65},"fill":"#e2e2e2","stroke":"#555","strokeWidth":0.7},"encoding":{"y":{"field":"q1","type":"quantitative"},"y2":{"field":"q3"}}},
{"transform":[{"filter":"datum.q1!=null"}],"mark":{"type":"tick","size":15},"encoding":{"y":{"field":"md","type":"quantitative"}}},
{"transform":[{"filter":"datum.q1!=null"},{"fold":["lo","hi"],"as":["w","c"]}],"mark":{"type":"tick","size":7},"encoding":{"y":{"field":"c","type":"quantitative"}}},
{"transform":[{"filter":"datum.v!=null"},{"window":[{"op":"row_number","as":"rn"}],"groupby":["p","k"]},{"calculate":"[0,-2,2,-1,1][datum.rn%5]","as":"j"}],"mark":"circle","encoding":{"y":{"field":"v","type":"quantitative"},"xOffset":{"field":"j","type":"quantitative","scale":{"domain":[-2,2],"range":[6.9,16.9]}},"color":{"field":"k","type":"nominal","scale":{"domain":[1,2,3,4,5,6],"range":["#e5262c","#1d1d9e","#33b333","#e5262c","#1d1d9e","#33b333"]},"legend":null}}},
{"transform":[{"filter":"datum.s!=null"}],"mark":"rule","encoding":{"x":{"field":"a","type":"nominal"},"x2":{"field":"b"},"y":{"field":"y","type":"quantitative"}}},
{"transform":[{"filter":"datum.s!=null&&datum.m!=null"}],"mark":"text","encoding":{"x":{"field":"m","type":"nominal"},"y":{"field":"y","type":"quantitative"},"text":{"field":"s"}}},
{"transform":[{"filter":"datum.s!=null&&datum.m==null"}],"mark":"text","encoding":{"x":{"field":"a","type":"nominal","bandPosition":1},"y":{"field":"y","type":"quantitative"},"text":{"field":"s"}}},
{"transform":[{"filter":"datum.g!=null"}],"mark":"rule","encoding":{"x":{"field":"a","type":"nominal","bandPosition":0.25},"x2":{"field":"b","bandPosition":0.75},"y":{"datum":-43,"type":"quantitative"}}},
{"transform":[{"filter":"datum.g!=null"}],"mark":{"type":"text","baseline":"top","dy":1.5},"encoding":{"x":{"field":"m","type":"nominal"},"y":{"datum":-43,"type":"quantitative"},"text":{"field":"g"}}},
{"transform":[{"filter":"datum.ti!=null"}],"mark":{"type":"text","baseline":"middle","fontSize":7.5,"dy":-13.5},"encoding":{"x":{"field":"b","type":"nominal","bandPosition":1},"y":{"datum":150,"type":"quantitative"},"text":{"field":"ti"}}},
{"transform":[{"filter":"datum.ti!=null"}],"mark":{"type":"text","baseline":"middle","fontSize":16,"opacity":0,"dy":-22},"encoding":{"x":{"field":"m","type":"nominal"},"y":{"datum":150,"type":"quantitative"},"text":{"field":"L"}}}
]}}
]},
{"spacing":15,"hconcat":[
{"data":{"name":"d"},"transform":[{"filter":{"field":"p","oneOf":["G1","H1","I1"]}}],"facet":{"row":{"field":"p","type":"nominal","header":{"labels":false,"title":null}}},"spacing":65,"bounds":"flush","resolve":{"axis":{"x":"independent","y":"independent"}},
"spec":{"width":137,"height":94,"encoding":{"x":{"field":"k","type":"nominal","scale":{"domain":[1,2,3,4,5,6],"paddingInner":0,"paddingOuter":0.1},"axis":{"title":null,"labelExpr":"['','PB','PF','TT','PB','PF','TT'][datum.value]"}}},
"layer":[
{"transform":[{"filter":"datum.q1!=null"}],"mark":"rule","encoding":{"y":{"field":"lo","type":"quantitative","scale":{"domain":[0,150]},"axis":{"title":"% total M-MDSCs","values":[0,50,100,150]}},"y2":{"field":"hi"}}},
{"transform":[{"filter":"datum.q1!=null"}],"mark":{"type":"bar","width":{"band":0.65},"fill":"#e2e2e2","stroke":"#555","strokeWidth":0.7},"encoding":{"y":{"field":"q1","type":"quantitative"},"y2":{"field":"q3"}}},
{"transform":[{"filter":"datum.q1!=null"}],"mark":{"type":"tick","size":14},"encoding":{"y":{"field":"md","type":"quantitative"}}},
{"transform":[{"filter":"datum.q1!=null"},{"fold":["lo","hi"],"as":["w","c"]}],"mark":{"type":"tick","size":7},"encoding":{"y":{"field":"c","type":"quantitative"}}},
{"transform":[{"filter":"datum.v!=null"},{"window":[{"op":"row_number","as":"rn"}],"groupby":["p","k"]},{"calculate":"[0,-2,2,-1,1][datum.rn%5]","as":"j"}],"mark":"circle","encoding":{"y":{"field":"v","type":"quantitative"},"xOffset":{"field":"j","type":"quantitative","scale":{"domain":[-2,2],"range":[6,16]}},"color":{"field":"k","type":"nominal","scale":{"domain":[1,2,3,4,5,6],"range":["#e5262c","#1d1d9e","#33b333","#e5262c","#1d1d9e","#33b333"]},"legend":null}}},
{"transform":[{"filter":"datum.s!=null"}],"mark":"rule","encoding":{"x":{"field":"a","type":"nominal"},"x2":{"field":"b"},"y":{"field":"y","type":"quantitative"}}},
{"transform":[{"filter":"datum.s!=null&&datum.m!=null"}],"mark":"text","encoding":{"x":{"field":"m","type":"nominal"},"y":{"field":"y","type":"quantitative"},"text":{"field":"s"}}},
{"transform":[{"filter":"datum.s!=null&&datum.m==null"}],"mark":"text","encoding":{"x":{"field":"a","type":"nominal","bandPosition":1},"y":{"field":"y","type":"quantitative"},"text":{"field":"s"}}},
{"transform":[{"filter":"datum.g!=null"}],"mark":"rule","encoding":{"x":{"field":"a","type":"nominal","bandPosition":0.25},"x2":{"field":"b","bandPosition":0.75},"y":{"datum":-43,"type":"quantitative"}}},
{"transform":[{"filter":"datum.g!=null"}],"mark":{"type":"text","baseline":"top","dy":1.5},"encoding":{"x":{"field":"m","type":"nominal"},"y":{"datum":-43,"type":"quantitative"},"text":{"field":"g"}}},
{"transform":[{"filter":"datum.ti!=null"}],"mark":{"type":"text","baseline":"middle","fontSize":7.5,"dy":-13.5},"encoding":{"x":{"field":"b","type":"nominal","bandPosition":1},"y":{"datum":150,"type":"quantitative"},"text":{"field":"ti"}}},
{"transform":[{"filter":"datum.ti!=null"}],"mark":{"type":"text","baseline":"middle","fontSize":16,"color":"#000","dx":-25,"dy":-22},"encoding":{"x":{"field":"a","type":"nominal","bandPosition":0},"y":{"datum":150,"type":"quantitative"},"text":{"field":"L"}}}
]}},
{"data":{"name":"d"},"transform":[{"filter":{"field":"p","oneOf":["G2","H2","I2"]}}],"facet":{"row":{"field":"p","type":"nominal","header":{"labels":false,"title":null}}},"spacing":65,"bounds":"flush","resolve":{"axis":{"x":"independent","y":"independent"}},
"spec":{"width":143,"height":94,"encoding":{"x":{"field":"k","type":"nominal","scale":{"domain":[1,2,3,4,5,6],"paddingInner":0,"paddingOuter":0.1},"axis":{"title":null,"labelExpr":"['','PB','PF','TT','PB','PF','TT'][datum.value]"}}},
"layer":[
{"transform":[{"filter":"datum.q1!=null"}],"mark":"rule","encoding":{"y":{"field":"lo","type":"quantitative","scale":{"domain":[0,150]},"axis":{"title":"% total PMN-MDSCs","values":[0,50,100,150]}},"y2":{"field":"hi"}}},
{"transform":[{"filter":"datum.q1!=null"}],"mark":{"type":"bar","width":{"band":0.65},"fill":"#e2e2e2","stroke":"#555","strokeWidth":0.7},"encoding":{"y":{"field":"q1","type":"quantitative"},"y2":{"field":"q3"}}},
{"transform":[{"filter":"datum.q1!=null"}],"mark":{"type":"tick","size":15},"encoding":{"y":{"field":"md","type":"quantitative"}}},
{"transform":[{"filter":"datum.q1!=null"},{"fold":["lo","hi"],"as":["w","c"]}],"mark":{"type":"tick","size":7},"encoding":{"y":{"field":"c","type":"quantitative"}}},
{"transform":[{"filter":"datum.v!=null"},{"window":[{"op":"row_number","as":"rn"}],"groupby":["p","k"]},{"calculate":"[0,-2,2,-1,1][datum.rn%5]","as":"j"}],"mark":"circle","encoding":{"y":{"field":"v","type":"quantitative"},"xOffset":{"field":"j","type":"quantitative","scale":{"domain":[-2,2],"range":[6.5,16.5]}},"color":{"field":"k","type":"nominal","scale":{"domain":[1,2,3,4,5,6],"range":["#e5262c","#1d1d9e","#33b333","#e5262c","#1d1d9e","#33b333"]},"legend":null}}},
{"transform":[{"filter":"datum.s!=null"}],"mark":"rule","encoding":{"x":{"field":"a","type":"nominal"},"x2":{"field":"b"},"y":{"field":"y","type":"quantitative"}}},
{"transform":[{"filter":"datum.s!=null&&datum.m!=null"}],"mark":"text","encoding":{"x":{"field":"m","type":"nominal"},"y":{"field":"y","type":"quantitative"},"text":{"field":"s"}}},
{"transform":[{"filter":"datum.s!=null&&datum.m==null"}],"mark":"text","encoding":{"x":{"field":"a","type":"nominal","bandPosition":1},"y":{"field":"y","type":"quantitative"},"text":{"field":"s"}}},
{"transform":[{"filter":"datum.g!=null"}],"mark":"rule","encoding":{"x":{"field":"a","type":"nominal","bandPosition":0.25},"x2":{"field":"b","bandPosition":0.75},"y":{"datum":-43,"type":"quantitative"}}},
{"transform":[{"filter":"datum.g!=null"}],"mark":{"type":"text","baseline":"top","dy":1.5},"encoding":{"x":{"field":"m","type":"nominal"},"y":{"datum":-43,"type":"quantitative"},"text":{"field":"g"}}},
{"transform":[{"filter":"datum.ti!=null"}],"mark":{"type":"text","baseline":"middle","fontSize":7.5,"dy":-13.5},"encoding":{"x":{"field":"b","type":"nominal","bandPosition":1},"y":{"datum":150,"type":"quantitative"},"text":{"field":"ti"}}},
{"transform":[{"filter":"datum.ti!=null"}],"mark":{"type":"text","baseline":"middle","fontSize":16,"opacity":0,"dy":-22},"encoding":{"x":{"field":"m","type":"nominal"},"y":{"datum":150,"type":"quantitative"},"text":{"field":"L"}}}
]}}
]}
]},
{"spacing":64,"hconcat":[
{"spacing":0,"hconcat":[
{"data":{"name":"d"},"transform":[{"filter":{"field":"p","oneOf":["D1","E1","F1"]}}],"facet":{"row":{"field":"p","type":"nominal","header":{"labels":false,"title":null}}},"spacing":63,"bounds":"flush","resolve":{"axis":{"x":"independent","y":"independent"}},
"spec":{"width":145,"height":94,"encoding":{"x":{"field":"k","type":"nominal","scale":{"domain":[1,2,3,4,5,6],"paddingInner":0,"paddingOuter":0.1},"axis":{"title":null,"labelExpr":"['','PB','PF','TT','PB','PF','TT'][datum.value]"}}},
"layer":[
{"transform":[{"filter":"datum.q1!=null"}],"mark":"rule","encoding":{"y":{"field":"lo","type":"quantitative","scale":{"domain":[0,150]},"axis":{"title":"% total M-MDSCs","values":[0,50,100,150]}},"y2":{"field":"hi"}}},
{"transform":[{"filter":"datum.q1!=null"}],"mark":{"type":"bar","width":{"band":0.65},"fill":"#e2e2e2","stroke":"#555","strokeWidth":0.7},"encoding":{"y":{"field":"q1","type":"quantitative"},"y2":{"field":"q3"}}},
{"transform":[{"filter":"datum.q1!=null"}],"mark":{"type":"tick","size":15},"encoding":{"y":{"field":"md","type":"quantitative"}}},
{"transform":[{"filter":"datum.q1!=null"},{"fold":["lo","hi"],"as":["w","c"]}],"mark":{"type":"tick","size":7},"encoding":{"y":{"field":"c","type":"quantitative"}}},
{"transform":[{"filter":"datum.v!=null"},{"window":[{"op":"row_number","as":"rn"}],"groupby":["p","k"]},{"calculate":"[0,-2,2,-1,1][datum.rn%5]","as":"j"}],"mark":"circle","encoding":{"y":{"field":"v","type":"quantitative"},"xOffset":{"field":"j","type":"quantitative","scale":{"domain":[-2,2],"range":[6.7,16.7]}},"color":{"field":"k","type":"nominal","scale":{"domain":[1,2,3,4,5,6],"range":["#e5262c","#1d1d9e","#33b333","#e5262c","#1d1d9e","#33b333"]},"legend":null}}},
{"transform":[{"filter":"datum.s!=null"}],"mark":"rule","encoding":{"x":{"field":"a","type":"nominal"},"x2":{"field":"b"},"y":{"field":"y","type":"quantitative"}}},
{"transform":[{"filter":"datum.s!=null&&datum.m!=null"}],"mark":"text","encoding":{"x":{"field":"m","type":"nominal"},"y":{"field":"y","type":"quantitative"},"text":{"field":"s"}}},
{"transform":[{"filter":"datum.s!=null&&datum.m==null"}],"mark":"text","encoding":{"x":{"field":"a","type":"nominal","bandPosition":1},"y":{"field":"y","type":"quantitative"},"text":{"field":"s"}}},
{"transform":[{"filter":"datum.g!=null"}],"mark":"rule","encoding":{"x":{"field":"a","type":"nominal","bandPosition":0.25},"x2":{"field":"b","bandPosition":0.75},"y":{"datum":-43,"type":"quantitative"}}},
{"transform":[{"filter":"datum.g!=null"}],"mark":{"type":"text","baseline":"top","dy":1.5},"encoding":{"x":{"field":"m","type":"nominal"},"y":{"datum":-43,"type":"quantitative"},"text":{"field":"g"}}},
{"transform":[{"filter":"datum.ti!=null"}],"mark":{"type":"text","baseline":"middle","fontSize":7.5,"dy":-13.5},"encoding":{"x":{"field":"b","type":"nominal","bandPosition":1},"y":{"datum":150,"type":"quantitative"},"text":{"field":"ti"}}},
{"transform":[{"filter":"datum.ti!=null"}],"mark":{"type":"text","baseline":"middle","fontSize":16,"color":"#000","dx":-25,"dy":-22},"encoding":{"x":{"field":"a","type":"nominal","bandPosition":0},"y":{"datum":150,"type":"quantitative"},"text":{"field":"L"}}}
]}},
{"data":{"name":"d"},"transform":[{"filter":{"field":"p","oneOf":["D2","E2","F2"]}}],"facet":{"row":{"field":"p","type":"nominal","header":{"labels":false,"title":null}}},"spacing":63,"bounds":"flush","resolve":{"axis":{"x":"independent","y":"independent"}},
"spec":{"width":148,"height":94,"encoding":{"x":{"field":"k","type":"nominal","scale":{"domain":[1,2,3,4,5,6],"paddingInner":0,"paddingOuter":0.1},"axis":{"title":null,"labelExpr":"['','PB','PF','TT','PB','PF','TT'][datum.value]"}}},
"layer":[
{"transform":[{"filter":"datum.q1!=null"}],"mark":"rule","encoding":{"y":{"field":"lo","type":"quantitative","scale":{"domain":[0,150]},"axis":{"title":"% total PMN-MDSCs","values":[0,50,100,150]}},"y2":{"field":"hi"}}},
{"transform":[{"filter":"datum.q1!=null"}],"mark":{"type":"bar","width":{"band":0.65},"fill":"#e2e2e2","stroke":"#555","strokeWidth":0.7},"encoding":{"y":{"field":"q1","type":"quantitative"},"y2":{"field":"q3"}}},
{"transform":[{"filter":"datum.q1!=null"}],"mark":{"type":"tick","size":15},"encoding":{"y":{"field":"md","type":"quantitative"}}},
{"transform":[{"filter":"datum.q1!=null"},{"fold":["lo","hi"],"as":["w","c"]}],"mark":{"type":"tick","size":7},"encoding":{"y":{"field":"c","type":"quantitative"}}},
{"transform":[{"filter":"datum.v!=null"},{"window":[{"op":"row_number","as":"rn"}],"groupby":["p","k"]},{"calculate":"[0,-2,2,-1,1][datum.rn%5]","as":"j"}],"mark":"circle","encoding":{"y":{"field":"v","type":"quantitative"},"xOffset":{"field":"j","type":"quantitative","scale":{"domain":[-2,2],"range":[6.9,16.9]}},"color":{"field":"k","type":"nominal","scale":{"domain":[1,2,3,4,5,6],"range":["#e5262c","#1d1d9e","#33b333","#e5262c","#1d1d9e","#33b333"]},"legend":null}}},
{"transform":[{"filter":"datum.s!=null"}],"mark":"rule","encoding":{"x":{"field":"a","type":"nominal"},"x2":{"field":"b"},"y":{"field":"y","type":"quantitative"}}},
{"transform":[{"filter":"datum.s!=null&&datum.m!=null"}],"mark":"text","encoding":{"x":{"field":"m","type":"nominal"},"y":{"field":"y","type":"quantitative"},"text":{"field":"s"}}},
{"transform":[{"filter":"datum.s!=null&&datum.m==null"}],"mark":"text","encoding":{"x":{"field":"a","type":"nominal","bandPosition":1},"y":{"field":"y","type":"quantitative"},"text":{"field":"s"}}},
{"transform":[{"filter":"datum.g!=null"}],"mark":"rule","encoding":{"x":{"field":"a","type":"nominal","bandPosition":0.25},"x2":{"field":"b","bandPosition":0.75},"y":{"datum":-43,"type":"quantitative"}}},
{"transform":[{"filter":"datum.g!=null"}],"mark":{"type":"text","baseline":"top","dy":1.5},"encoding":{"x":{"field":"m","type":"nominal"},"y":{"datum":-43,"type":"quantitative"},"text":{"field":"g"}}},
{"transform":[{"filter":"datum.ti!=null"}],"mark":{"type":"text","baseline":"middle","fontSize":7.5,"dy":-13.5},"encoding":{"x":{"field":"b","type":"nominal","bandPosition":1},"y":{"datum":150,"type":"quantitative"},"text":{"field":"ti"}}},
{"transform":[{"filter":"datum.ti!=null"}],"mark":{"type":"text","baseline":"middle","fontSize":16,"opacity":0,"dy":-22},"encoding":{"x":{"field":"m","type":"nominal"},"y":{"datum":150,"type":"quantitative"},"text":{"field":"L"}}}
]}}
]},
{"spacing":20,"hconcat":[
{"data":{"name":"d"},"transform":[{"filter":{"field":"p","oneOf":["J1","K1","L1"]}}],"facet":{"row":{"field":"p","type":"nominal","header":{"labels":false,"title":null}}},"spacing":63,"bounds":"flush","resolve":{"axis":{"x":"independent","y":"independent"}},
"spec":{"width":137,"height":94,"encoding":{"x":{"field":"k","type":"nominal","scale":{"domain":[1,2,3,4,5,6],"paddingInner":0,"paddingOuter":0.1},"axis":{"title":null,"labelExpr":"['','PB','PF','TT','PB','PF','TT'][datum.value]"}}},
"layer":[
{"transform":[{"filter":"datum.q1!=null"}],"mark":"rule","encoding":{"y":{"field":"lo","type":"quantitative","scale":{"domain":[0,100]},"axis":{"title":"% total M-MDSCs","values":[0,20,40,60,80,100]}},"y2":{"field":"hi"}}},
{"transform":[{"filter":"datum.q1!=null"}],"mark":{"type":"bar","width":{"band":0.65},"fill":"#e2e2e2","stroke":"#555","strokeWidth":0.7},"encoding":{"y":{"field":"q1","type":"quantitative"},"y2":{"field":"q3"}}},
{"transform":[{"filter":"datum.q1!=null"}],"mark":{"type":"tick","size":14},"encoding":{"y":{"field":"md","type":"quantitative"}}},
{"transform":[{"filter":"datum.q1!=null"},{"fold":["lo","hi"],"as":["w","c"]}],"mark":{"type":"tick","size":7},"encoding":{"y":{"field":"c","type":"quantitative"}}},
{"transform":[{"filter":"datum.v!=null"},{"window":[{"op":"row_number","as":"rn"}],"groupby":["p","k"]},{"calculate":"[0,-2,2,-1,1][datum.rn%5]","as":"j"}],"mark":"circle","encoding":{"y":{"field":"v","type":"quantitative"},"xOffset":{"field":"j","type":"quantitative","scale":{"domain":[-2,2],"range":[6,16]}},"color":{"field":"k","type":"nominal","scale":{"domain":[1,2,3,4,5,6],"range":["#e5262c","#1d1d9e","#33b333","#e5262c","#1d1d9e","#33b333"]},"legend":null}}},
{"transform":[{"filter":"datum.s!=null"}],"mark":"rule","encoding":{"x":{"field":"a","type":"nominal"},"x2":{"field":"b"},"y":{"field":"y","type":"quantitative"}}},
{"transform":[{"filter":"datum.s!=null&&datum.m!=null"}],"mark":"text","encoding":{"x":{"field":"m","type":"nominal"},"y":{"field":"y","type":"quantitative"},"text":{"field":"s"}}},
{"transform":[{"filter":"datum.s!=null&&datum.m==null"}],"mark":"text","encoding":{"x":{"field":"a","type":"nominal","bandPosition":1},"y":{"field":"y","type":"quantitative"},"text":{"field":"s"}}},
{"transform":[{"filter":"datum.g!=null"}],"mark":"rule","encoding":{"x":{"field":"a","type":"nominal","bandPosition":0.25},"x2":{"field":"b","bandPosition":0.75},"y":{"datum":-28.7,"type":"quantitative"}}},
{"transform":[{"filter":"datum.g!=null"}],"mark":{"type":"text","baseline":"top","dy":1.5},"encoding":{"x":{"field":"m","type":"nominal"},"y":{"datum":-28.7,"type":"quantitative"},"text":{"field":"g"}}},
{"transform":[{"filter":"datum.ti!=null"}],"mark":{"type":"text","baseline":"middle","fontSize":7.5,"dy":-13.5},"encoding":{"x":{"field":"b","type":"nominal","bandPosition":1},"y":{"datum":100,"type":"quantitative"},"text":{"field":"ti"}}},
{"transform":[{"filter":"datum.ti!=null"}],"mark":{"type":"text","baseline":"middle","fontSize":16,"color":"#000","dx":-25,"dy":-22},"encoding":{"x":{"field":"a","type":"nominal","bandPosition":0},"y":{"datum":100,"type":"quantitative"},"text":{"field":"L"}}}
]}},
{"data":{"name":"d"},"transform":[{"filter":{"field":"p","oneOf":["J2","K2","L2"]}}],"facet":{"row":{"field":"p","type":"nominal","header":{"labels":false,"title":null}}},"spacing":63,"bounds":"flush","resolve":{"axis":{"x":"independent","y":"independent"}},
"spec":{"width":141,"height":94,"encoding":{"x":{"field":"k","type":"nominal","scale":{"domain":[1,2,3,4,5,6],"paddingInner":0,"paddingOuter":0.1},"axis":{"title":null,"labelExpr":"['','PB','PF','TT','PB','PF','TT'][datum.value]"}}},
"layer":[
{"transform":[{"filter":"datum.q1!=null"}],"mark":"rule","encoding":{"y":{"field":"lo","type":"quantitative","scale":{"domain":[0,80]},"axis":{"title":"% total PMN-MDSCs","values":[0,20,40,60,80]}},"y2":{"field":"hi"}}},
{"transform":[{"filter":"datum.q1!=null"}],"mark":{"type":"bar","width":{"band":0.65},"fill":"#e2e2e2","stroke":"#555","strokeWidth":0.7},"encoding":{"y":{"field":"q1","type":"quantitative"},"y2":{"field":"q3"}}},
{"transform":[{"filter":"datum.q1!=null"}],"mark":{"type":"tick","size":15},"encoding":{"y":{"field":"md","type":"quantitative"}}},
{"transform":[{"filter":"datum.q1!=null"},{"fold":["lo","hi"],"as":["w","c"]}],"mark":{"type":"tick","size":7},"encoding":{"y":{"field":"c","type":"quantitative"}}},
{"transform":[{"filter":"datum.v!=null"},{"window":[{"op":"row_number","as":"rn"}],"groupby":["p","k"]},{"calculate":"[0,-2,2,-1,1][datum.rn%5]","as":"j"}],"mark":"circle","encoding":{"y":{"field":"v","type":"quantitative"},"xOffset":{"field":"j","type":"quantitative","scale":{"domain":[-2,2],"range":[6.4,16.4]}},"color":{"field":"k","type":"nominal","scale":{"domain":[1,2,3,4,5,6],"range":["#e5262c","#1d1d9e","#33b333","#e5262c","#1d1d9e","#33b333"]},"legend":null}}},
{"transform":[{"filter":"datum.s!=null"}],"mark":"rule","encoding":{"x":{"field":"a","type":"nominal"},"x2":{"field":"b"},"y":{"field":"y","type":"quantitative"}}},
{"transform":[{"filter":"datum.s!=null&&datum.m!=null"}],"mark":"text","encoding":{"x":{"field":"m","type":"nominal"},"y":{"field":"y","type":"quantitative"},"text":{"field":"s"}}},
{"transform":[{"filter":"datum.s!=null&&datum.m==null"}],"mark":"text","encoding":{"x":{"field":"a","type":"nominal","bandPosition":1},"y":{"field":"y","type":"quantitative"},"text":{"field":"s"}}},
{"transform":[{"filter":"datum.g!=null"}],"mark":"rule","encoding":{"x":{"field":"a","type":"nominal","bandPosition":0.25},"x2":{"field":"b","bandPosition":0.75},"y":{"datum":-23,"type":"quantitative"}}},
{"transform":[{"filter":"datum.g!=null"}],"mark":{"type":"text","baseline":"top","dy":1.5},"encoding":{"x":{"field":"m","type":"nominal"},"y":{"datum":-23,"type":"quantitative"},"text":{"field":"g"}}},
{"transform":[{"filter":"datum.ti!=null"}],"mark":{"type":"text","baseline":"middle","fontSize":7.5,"dy":-13.5},"encoding":{"x":{"field":"b","type":"nominal","bandPosition":1},"y":{"datum":80,"type":"quantitative"},"text":{"field":"ti"}}},
{"transform":[{"filter":"datum.ti!=null"}],"mark":{"type":"text","baseline":"middle","fontSize":16,"opacity":0,"dy":-22},"encoding":{"x":{"field":"m","type":"nominal"},"y":{"datum":80,"type":"quantitative"},"text":{"field":"L"}}}
]}}
]}
]}
]}
